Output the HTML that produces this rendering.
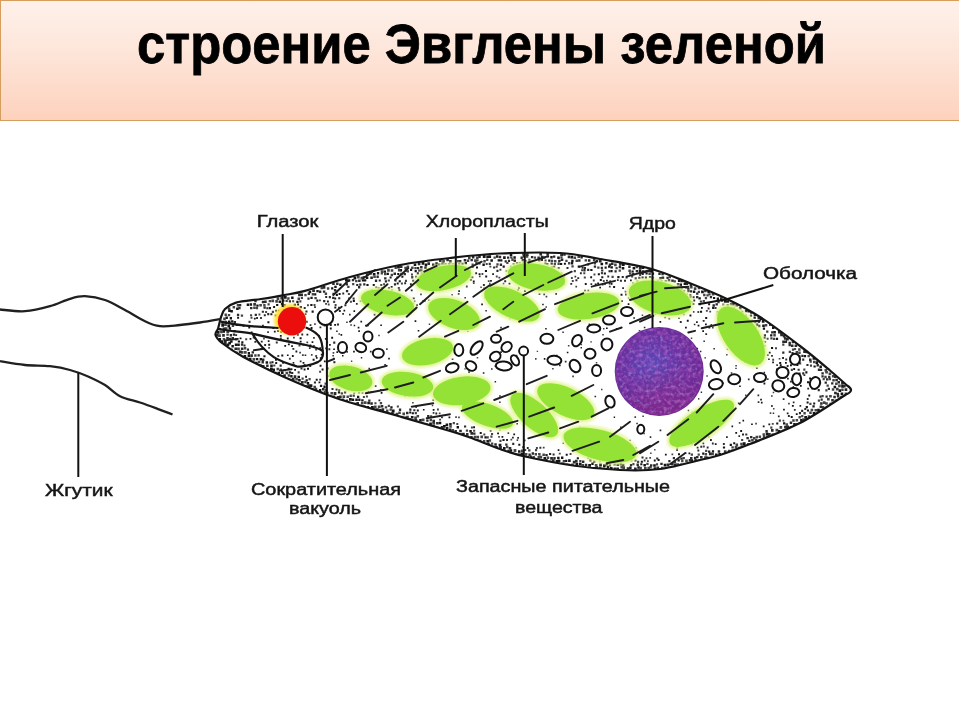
<!DOCTYPE html>
<html><head><meta charset="utf-8"><style>
html,body{margin:0;padding:0;background:#fff;}
body{width:960px;height:720px;position:relative;overflow:hidden;font-family:"Liberation Sans",sans-serif;}
#tb{position:absolute;left:0;top:0;width:959px;height:121px;box-sizing:border-box;border:1px solid #d69e5c;border-right:none;
background:linear-gradient(to bottom,#fef1ea 0%,#fde3d6 50%,#fdd2bd 100%);}
svg{position:absolute;left:0;top:0;}
.lb{font-family:"Liberation Sans",sans-serif;font-size:16px;fill:#151515;stroke:#151515;stroke-width:0.45px;}
</style></head><body>
<div id="tb"></div>
<svg width="960" height="720" viewBox="0 0 960 720">
<defs>
<clipPath id="bc"><path d="M221.0 317.0 C221.7 315.7 222.5 311.4 225.0 309.0 C227.5 306.6 230.0 304.3 236.0 302.6 C242.0 300.9 253.2 300.2 261.0 299.0 C268.8 297.8 275.7 296.7 283.0 295.3 C290.3 293.9 293.8 293.9 305.0 290.9 C316.2 287.8 334.2 281.3 350.0 277.0 C365.8 272.7 383.3 268.2 400.0 265.0 C416.7 261.8 433.3 259.9 450.0 258.0 C466.7 256.1 481.7 254.3 500.0 253.5 C518.3 252.7 543.3 252.1 560.0 253.0 C576.7 253.9 585.0 256.4 600.0 259.0 C615.0 261.6 635.0 264.4 650.0 268.5 C665.0 272.6 677.2 278.2 690.0 283.3 C702.8 288.4 715.3 293.4 727.0 299.0 C738.7 304.6 747.8 309.2 760.0 317.0 C772.2 324.8 788.3 337.1 800.0 346.0 C811.7 354.9 822.2 363.9 830.0 370.5 C837.8 377.1 844.2 383.0 847.0 385.5 Q855.5 390.5 846 394.5 C838.3 399.2 816.0 414.8 800.0 423.0 C784.0 431.2 763.3 438.7 750.0 444.0 C736.7 449.3 728.3 452.3 720.0 455.0 C711.7 457.7 710.0 457.7 700.0 460.0 C690.0 462.3 673.3 467.3 660.0 469.0 C646.7 470.7 634.5 470.6 620.0 470.0 C605.5 469.4 588.8 467.8 573.0 465.5 C557.2 463.2 537.2 459.2 525.0 456.5 C512.8 453.8 509.2 452.2 500.0 449.0 C490.8 445.8 478.3 440.5 470.0 437.5 C461.7 434.5 461.7 434.5 450.0 431.0 C438.3 427.5 419.0 422.0 400.0 416.5 C381.0 411.0 355.5 404.7 336.0 398.0 C316.5 391.3 298.5 383.4 283.0 376.5 C267.5 369.6 253.2 362.3 243.0 356.7 C232.8 351.1 226.6 346.6 222.0 343.0 C217.4 339.4 216.2 337.3 215.5 335.0 C214.8 332.7 217.6 330.0 218.0 329.0 Z"/></clipPath>
<filter id="gl" x="-30%" y="-30%" width="160%" height="160%"><feGaussianBlur stdDeviation="1.6"/></filter>
<filter id="cb" x="-10%" y="-10%" width="120%" height="120%"><feGaussianBlur stdDeviation="0.45"/></filter>
<filter id="sb" x="-10%" y="-10%" width="120%" height="120%"><feGaussianBlur stdDeviation="0.7"/></filter>
<filter id="nt" x="0" y="0" width="100%" height="100%">
<feTurbulence type="fractalNoise" baseFrequency="0.28" numOctaves="2" seed="5" result="n"/>
<feColorMatrix in="n" type="matrix" values="0 0 0 0 0.55  0 0 0 0 0.45  0 0 0 0 0.85  2.2 0 0 0 -1.05" result="c"/>
<feComposite in="c" in2="SourceGraphic" operator="in"/>
</filter>
<filter id="nt2" x="0" y="0" width="100%" height="100%">
<feTurbulence type="fractalNoise" baseFrequency="0.22" numOctaves="2" seed="9" result="n"/>
<feColorMatrix in="n" type="matrix" values="0 0 0 0 0.45  0 0 0 0 0.08  0 0 0 0 0.5  0 2.2 0 0 -1.0" result="c"/>
<feComposite in="c" in2="SourceGraphic" operator="in"/>
</filter>
<radialGradient id="nr" cx="0.55" cy="0.85" r="0.45"><stop offset="0" stop-color="#a02070" stop-opacity="0.3"/><stop offset="1" stop-color="#b02060" stop-opacity="0"/></radialGradient>
<radialGradient id="ng" cx="0.42" cy="0.42" r="0.6">
<stop offset="0" stop-color="#5a48b8"/><stop offset="0.55" stop-color="#6830a0"/><stop offset="1" stop-color="#702a92"/>
</radialGradient>
</defs>
<text x="137" y="62.5" font-family="Liberation Sans" font-weight="bold" font-size="56" textLength="689" lengthAdjust="spacingAndGlyphs" fill="#000" stroke="#000" stroke-width="0.8">строение Эвглены зеленой</text>
<path d="M221.0 317.0 C221.7 315.7 222.5 311.4 225.0 309.0 C227.5 306.6 230.0 304.3 236.0 302.6 C242.0 300.9 253.2 300.2 261.0 299.0 C268.8 297.8 275.7 296.7 283.0 295.3 C290.3 293.9 293.8 293.9 305.0 290.9 C316.2 287.8 334.2 281.3 350.0 277.0 C365.8 272.7 383.3 268.2 400.0 265.0 C416.7 261.8 433.3 259.9 450.0 258.0 C466.7 256.1 481.7 254.3 500.0 253.5 C518.3 252.7 543.3 252.1 560.0 253.0 C576.7 253.9 585.0 256.4 600.0 259.0 C615.0 261.6 635.0 264.4 650.0 268.5 C665.0 272.6 677.2 278.2 690.0 283.3 C702.8 288.4 715.3 293.4 727.0 299.0 C738.7 304.6 747.8 309.2 760.0 317.0 C772.2 324.8 788.3 337.1 800.0 346.0 C811.7 354.9 822.2 363.9 830.0 370.5 C837.8 377.1 844.2 383.0 847.0 385.5 Q855.5 390.5 846 394.5 C838.3 399.2 816.0 414.8 800.0 423.0 C784.0 431.2 763.3 438.7 750.0 444.0 C736.7 449.3 728.3 452.3 720.0 455.0 C711.7 457.7 710.0 457.7 700.0 460.0 C690.0 462.3 673.3 467.3 660.0 469.0 C646.7 470.7 634.5 470.6 620.0 470.0 C605.5 469.4 588.8 467.8 573.0 465.5 C557.2 463.2 537.2 459.2 525.0 456.5 C512.8 453.8 509.2 452.2 500.0 449.0 C490.8 445.8 478.3 440.5 470.0 437.5 C461.7 434.5 461.7 434.5 450.0 431.0 C438.3 427.5 419.0 422.0 400.0 416.5 C381.0 411.0 355.5 404.7 336.0 398.0 C316.5 391.3 298.5 383.4 283.0 376.5 C267.5 369.6 253.2 362.3 243.0 356.7 C232.8 351.1 226.6 346.6 222.0 343.0 C217.4 339.4 216.2 337.3 215.5 335.0 C214.8 332.7 217.6 330.0 218.0 329.0 Z" fill="#fff"/>
<g clip-path="url(#bc)"><path fill="#151515" d="M509.7 253.3h2.6v2.6h-2.6zM482.8 255.1h2.8v2.8h-2.8zM486.3 255.4h2.5v2.5h-2.5zM488.4 255.2h2.7v2.7h-2.7zM495.9 255.3h2.5v2.5h-2.5zM503.1 256.3h2.6v2.6h-2.6zM513.4 256.3h2.4v2.4h-2.4zM546.8 255.2h2.3v2.3h-2.3zM550.3 256.1h2.4v2.4h-2.4zM557.2 256.4h2.6v2.6h-2.6zM570.5 255.8h2.7v2.7h-2.7zM490.4 259.3h2.5v2.5h-2.5zM497.6 259.2h2.4v2.4h-2.4zM500.1 259.3h2.3v2.3h-2.3zM513.5 259.6h2.5v2.5h-2.5zM524.6 260.1h2.1v2.1h-2.1zM540.7 258.7h2.3v2.3h-2.3zM548.2 259.4h2.3v2.3h-2.3zM571.2 259.8h2.4v2.4h-2.4zM413.7 263.4h2.6v2.6h-2.6zM421.6 262.1h2.7v2.7h-2.7zM424.7 263.6h2.6v2.6h-2.6zM432.0 263.6h2.5v2.5h-2.5zM435.3 262.2h2.5v2.5h-2.5zM437.9 263.5h2.6v2.6h-2.6zM448.1 263.1h2.5v2.5h-2.5zM461.4 262.7h2.2v2.2h-2.2zM464.6 261.9h2.4v2.4h-2.4zM482.4 263.5h2.4v2.4h-2.4zM515.9 262.0h2.3v2.3h-2.3zM522.4 262.1h2.2v2.2h-2.2zM526.3 261.9h2.4v2.4h-2.4zM544.3 262.4h2.1v2.1h-2.1zM546.2 263.0h2.2v2.2h-2.2zM560.0 262.9h2.2v2.2h-2.2zM563.9 262.7h2.0v2.0h-2.0zM570.9 262.2h2.3v2.3h-2.3zM600.5 262.7h2.6v2.6h-2.6zM605.2 262.1h2.4v2.4h-2.4zM622.0 263.4h2.7v2.7h-2.7zM397.1 265.8h2.8v2.8h-2.8zM424.3 266.5h2.5v2.5h-2.5zM471.7 265.8h2.0v2.0h-2.0zM476.0 266.6h2.0v2.0h-2.0zM502.6 265.5h2.2v2.2h-2.2zM523.4 265.8h2.3v2.3h-2.3zM544.1 266.8h1.9v1.9h-1.9zM553.1 265.7h2.1v2.1h-2.1zM577.7 265.4h2.4v2.4h-2.4zM604.6 266.6h2.1v2.1h-2.1zM608.0 265.4h2.3v2.3h-2.3zM610.5 266.2h2.4v2.4h-2.4zM621.7 266.9h2.6v2.6h-2.6zM632.6 266.9h2.7v2.7h-2.7zM641.7 266.5h2.5v2.5h-2.5zM383.6 270.4h2.4v2.4h-2.4zM399.7 269.1h2.4v2.4h-2.4zM410.0 268.7h2.2v2.2h-2.2zM414.6 270.0h2.2v2.2h-2.2zM427.2 268.7h2.2v2.2h-2.2zM461.5 270.2h2.1v2.1h-2.1zM465.3 269.0h2.3v2.3h-2.3zM469.0 269.4h1.9v1.9h-1.9zM484.9 270.0h2.1v2.1h-2.1zM508.7 269.3h2.1v2.1h-2.1zM520.1 269.7h1.8v1.8h-1.8zM523.2 268.7h1.8v1.8h-1.8zM550.4 268.9h2.1v2.1h-2.1zM590.3 268.9h2.2v2.2h-2.2zM610.5 270.1h2.1v2.1h-2.1zM631.5 270.4h2.2v2.2h-2.2zM638.7 269.6h2.5v2.5h-2.5zM649.5 269.7h2.7v2.7h-2.7zM372.8 272.9h2.7v2.7h-2.7zM376.9 272.1h2.3v2.3h-2.3zM386.6 272.8h2.3v2.3h-2.3zM397.2 273.0h2.1v2.1h-2.1zM416.8 272.3h2.2v2.2h-2.2zM420.7 272.6h2.3v2.3h-2.3zM424.6 272.0h2.0v2.0h-2.0zM459.0 273.5h2.0v2.0h-2.0zM478.6 273.2h1.9v1.9h-1.9zM597.8 273.2h2.1v2.1h-2.1zM603.8 272.4h2.1v2.1h-2.1zM645.5 272.4h2.2v2.2h-2.2zM651.8 272.4h2.3v2.3h-2.3zM353.5 276.7h2.8v2.8h-2.8zM365.8 276.6h2.5v2.5h-2.5zM389.6 276.5h2.0v2.0h-2.0zM401.4 275.8h2.0v2.0h-2.0zM455.0 276.2h2.0v2.0h-2.0zM471.2 276.2h2.1v2.1h-2.1zM485.2 275.6h2.0v2.0h-2.0zM510.0 275.8h1.9v1.9h-1.9zM513.5 276.1h1.8v1.8h-1.8zM519.1 276.1h1.7v1.7h-1.7zM563.1 276.0h1.9v1.9h-1.9zM590.2 276.3h1.9v1.9h-1.9zM601.3 276.2h2.0v2.0h-2.0zM617.3 276.1h2.2v2.2h-2.2zM641.5 276.4h2.2v2.2h-2.2zM644.9 276.6h2.1v2.1h-2.1zM651.5 276.8h2.2v2.2h-2.2zM345.0 278.9h2.6v2.6h-2.6zM347.7 279.2h2.6v2.6h-2.6zM361.8 279.3h2.2v2.2h-2.2zM364.0 279.2h2.3v2.3h-2.3zM398.7 280.2h2.1v2.1h-2.1zM412.3 279.7h2.0v2.0h-2.0zM469.9 278.9h1.9v1.9h-1.9zM472.8 280.6h1.9v1.9h-1.9zM490.1 280.0h1.7v1.7h-1.7zM520.9 279.9h1.7v1.7h-1.7zM544.6 279.5h1.8v1.8h-1.8zM547.9 280.3h1.7v1.7h-1.7zM561.6 280.0h1.9v1.9h-1.9zM599.8 279.1h2.0v2.0h-2.0zM606.1 279.8h1.7v1.7h-1.7zM630.0 279.4h1.8v1.8h-1.8zM636.4 280.6h2.2v2.2h-2.2zM677.9 279.5h2.6v2.6h-2.6zM339.2 283.5h2.4v2.4h-2.4zM366.4 283.9h2.2v2.2h-2.2zM372.7 283.9h2.1v2.1h-2.1zM396.7 282.4h2.0v2.0h-2.0zM424.3 282.8h1.9v1.9h-1.9zM508.6 282.7h1.8v1.8h-1.8zM520.4 282.4h1.8v1.8h-1.8zM544.1 283.8h1.8v1.8h-1.8zM584.8 283.0h1.9v1.9h-1.9zM594.7 283.6h2.0v2.0h-2.0zM597.2 282.6h1.9v1.9h-1.9zM604.0 282.8h1.9v1.9h-1.9zM610.7 283.0h1.8v1.8h-1.8zM679.6 283.5h2.4v2.4h-2.4zM683.6 282.4h2.6v2.6h-2.6zM331.1 287.2h2.2v2.2h-2.2zM334.3 285.7h2.4v2.4h-2.4zM375.3 286.4h1.9v1.9h-1.9zM377.6 287.3h2.1v2.1h-2.1zM388.1 287.1h1.8v1.8h-1.8zM390.7 285.9h1.9v1.9h-1.9zM545.0 286.3h1.7v1.7h-1.7zM599.3 286.7h1.7v1.7h-1.7zM613.1 286.0h2.0v2.0h-2.0zM629.7 287.4h2.1v2.1h-2.1zM647.2 285.8h2.1v2.1h-2.1zM684.8 286.2h2.2v2.2h-2.2zM308.6 290.7h2.6v2.6h-2.6zM316.3 289.9h2.4v2.4h-2.4zM367.3 290.8h1.9v1.9h-1.9zM391.0 289.6h1.8v1.8h-1.8zM398.4 289.3h2.0v2.0h-2.0zM517.1 289.3h1.8v1.8h-1.8zM524.0 290.3h1.8v1.8h-1.8zM587.4 289.8h1.8v1.8h-1.8zM659.9 289.2h2.2v2.2h-2.2zM673.6 290.4h2.1v2.1h-2.1zM692.9 290.6h2.4v2.4h-2.4zM701.1 290.6h2.7v2.7h-2.7zM707.4 290.8h2.5v2.5h-2.5zM314.1 293.3h2.2v2.2h-2.2zM335.8 293.8h2.1v2.1h-2.1zM338.6 292.9h2.0v2.0h-2.0zM382.4 293.4h1.8v1.8h-1.8zM397.0 292.6h1.8v1.8h-1.8zM502.2 293.5h1.7v1.7h-1.7zM593.9 292.9h1.6v1.6h-1.6zM620.5 293.7h2.0v2.0h-2.0zM645.1 293.8h1.7v1.7h-1.7zM658.8 292.7h2.1v2.1h-2.1zM661.0 293.4h1.9v1.9h-1.9zM678.8 292.7h2.0v2.0h-2.0zM284.0 296.0h2.7v2.7h-2.7zM291.1 296.5h2.5v2.5h-2.5zM310.4 296.7h2.3v2.3h-2.3zM334.2 297.5h2.0v2.0h-2.0zM382.2 296.8h1.8v1.8h-1.8zM396.9 297.1h1.9v1.9h-1.9zM484.4 296.7h1.8v1.8h-1.8zM610.4 296.5h1.7v1.7h-1.7zM685.4 296.4h2.0v2.0h-2.0zM689.2 296.1h2.2v2.2h-2.2zM698.4 297.2h2.4v2.4h-2.4zM713.0 296.9h2.2v2.2h-2.2zM716.7 297.6h2.3v2.3h-2.3zM278.6 300.5h2.6v2.6h-2.6zM296.3 300.7h2.3v2.3h-2.3zM316.3 299.6h2.1v2.1h-2.1zM326.9 300.5h1.9v1.9h-1.9zM352.8 299.8h2.1v2.1h-2.1zM359.8 300.3h1.8v1.8h-1.8zM422.1 300.6h1.7v1.7h-1.7zM493.3 299.5h1.5v1.5h-1.5zM581.7 300.5h1.5v1.5h-1.5zM602.2 300.9h1.7v1.7h-1.7zM615.6 299.7h1.7v1.7h-1.7zM621.1 300.2h1.8v1.8h-1.8zM659.3 299.3h1.8v1.8h-1.8zM676.0 300.1h2.0v2.0h-2.0zM686.7 300.0h2.0v2.0h-2.0zM693.2 299.5h2.0v2.0h-2.0zM723.9 300.1h2.6v2.6h-2.6zM726.5 300.2h2.6v2.6h-2.6zM246.7 303.5h2.5v2.5h-2.5zM249.7 303.3h2.4v2.4h-2.4zM256.3 304.4h2.3v2.3h-2.3zM276.1 303.9h2.2v2.2h-2.2zM280.9 303.0h2.3v2.3h-2.3zM297.1 303.5h2.0v2.0h-2.0zM310.3 303.9h2.2v2.2h-2.2zM412.6 302.8h1.6v1.6h-1.6zM416.1 304.3h1.7v1.7h-1.7zM481.2 303.6h1.7v1.7h-1.7zM519.1 303.3h1.7v1.7h-1.7zM542.2 303.8h1.5v1.5h-1.5zM589.3 304.3h1.7v1.7h-1.7zM627.7 303.2h1.7v1.7h-1.7zM692.3 303.0h2.0v2.0h-2.0zM708.1 303.2h2.0v2.0h-2.0zM732.0 302.7h2.7v2.7h-2.7zM236.1 307.4h2.6v2.6h-2.6zM268.7 306.9h2.3v2.3h-2.3zM273.1 306.1h2.0v2.0h-2.0zM290.3 306.6h2.1v2.1h-2.1zM297.1 307.6h2.0v2.0h-2.0zM334.3 306.5h2.0v2.0h-2.0zM378.4 307.6h1.7v1.7h-1.7zM409.2 307.7h1.6v1.6h-1.6zM500.4 307.5h1.7v1.7h-1.7zM592.9 307.0h1.5v1.5h-1.5zM671.3 307.6h1.7v1.7h-1.7zM680.5 306.9h2.0v2.0h-2.0zM687.9 307.4h1.8v1.8h-1.8zM701.0 306.9h1.8v1.8h-1.8zM712.1 306.8h2.2v2.2h-2.2zM722.4 307.5h2.3v2.3h-2.3zM727.6 307.5h2.4v2.4h-2.4zM738.9 307.0h2.6v2.6h-2.6zM228.2 309.5h2.5v2.5h-2.5zM230.4 310.0h2.5v2.5h-2.5zM277.9 309.7h1.9v1.9h-1.9zM281.2 309.9h1.9v1.9h-1.9zM284.5 310.5h2.1v2.1h-2.1zM311.6 310.6h2.1v2.1h-2.1zM343.5 309.8h1.7v1.7h-1.7zM353.5 310.3h1.6v1.6h-1.6zM452.0 310.4h1.6v1.6h-1.6zM485.4 310.0h1.4v1.4h-1.4zM666.5 309.7h1.9v1.9h-1.9zM700.0 310.7h2.1v2.1h-2.1zM716.7 311.0h1.9v1.9h-1.9zM740.7 310.8h2.5v2.5h-2.5zM744.9 309.7h2.5v2.5h-2.5zM747.6 309.8h2.6v2.6h-2.6zM270.4 313.3h2.0v2.0h-2.0zM274.7 314.4h2.1v2.1h-2.1zM284.2 313.2h2.1v2.1h-2.1zM289.1 314.5h2.1v2.1h-2.1zM298.3 314.4h2.1v2.1h-2.1zM342.3 313.1h1.6v1.6h-1.6zM373.7 313.7h1.8v1.8h-1.8zM445.5 313.1h1.5v1.5h-1.5zM523.1 312.9h1.5v1.5h-1.5zM625.2 314.3h1.6v1.6h-1.6zM682.8 313.3h1.9v1.9h-1.9zM689.5 314.5h1.9v1.9h-1.9zM723.4 313.4h2.1v2.1h-2.1zM741.0 313.3h2.3v2.3h-2.3zM744.8 314.5h2.2v2.2h-2.2zM225.4 316.6h2.5v2.5h-2.5zM229.7 317.1h2.3v2.3h-2.3zM237.1 316.7h2.0v2.0h-2.0zM253.9 317.8h1.8v1.8h-1.8zM294.4 317.0h1.7v1.7h-1.7zM511.3 316.9h1.7v1.7h-1.7zM633.3 317.2h1.6v1.6h-1.6zM705.2 317.1h2.0v2.0h-2.0zM725.7 317.2h2.0v2.0h-2.0zM736.6 316.2h2.1v2.1h-2.1zM739.8 316.5h2.0v2.0h-2.0zM753.5 316.4h2.3v2.3h-2.3zM759.7 317.1h2.8v2.8h-2.8zM228.0 320.4h2.5v2.5h-2.5zM231.1 320.3h2.3v2.3h-2.3zM267.4 321.2h2.0v2.0h-2.0zM297.9 319.9h2.0v2.0h-2.0zM360.4 320.8h1.7v1.7h-1.7zM414.6 320.3h1.7v1.7h-1.7zM659.5 321.0h1.7v1.7h-1.7zM686.8 319.8h1.9v1.9h-1.9zM720.6 319.9h1.9v1.9h-1.9zM737.6 320.3h2.1v2.1h-2.1zM757.7 320.4h2.3v2.3h-2.3zM761.8 320.0h2.7v2.7h-2.7zM221.3 324.1h2.7v2.7h-2.7zM227.4 324.6h2.7v2.7h-2.7zM235.9 324.1h1.9v1.9h-1.9zM242.6 324.8h1.9v1.9h-1.9zM329.8 324.0h1.9v1.9h-1.9zM334.2 323.9h1.9v1.9h-1.9zM337.1 323.6h1.8v1.8h-1.8zM353.7 324.8h1.5v1.5h-1.5zM365.1 324.7h1.7v1.7h-1.7zM380.3 324.4h1.6v1.6h-1.6zM697.6 324.8h1.8v1.8h-1.8zM705.0 323.5h1.8v1.8h-1.8zM732.2 324.7h2.1v2.1h-2.1zM755.8 323.6h2.4v2.4h-2.4zM762.2 324.4h2.6v2.6h-2.6zM218.9 327.9h2.4v2.4h-2.4zM228.6 327.3h2.5v2.5h-2.5zM248.3 326.7h1.9v1.9h-1.9zM279.7 326.8h1.9v1.9h-1.9zM296.6 326.7h1.7v1.7h-1.7zM310.6 327.0h1.9v1.9h-1.9zM329.8 327.6h1.9v1.9h-1.9zM357.7 326.8h1.7v1.7h-1.7zM545.2 328.1h1.5v1.5h-1.5zM606.0 327.4h1.7v1.7h-1.7zM615.9 327.9h1.7v1.7h-1.7zM685.0 326.8h1.8v1.8h-1.8zM731.8 326.7h1.9v1.9h-1.9zM754.8 326.8h2.2v2.2h-2.2zM762.8 327.4h2.3v2.3h-2.3zM772.0 326.6h2.5v2.5h-2.5zM216.9 331.1h2.7v2.7h-2.7zM222.4 330.2h2.6v2.6h-2.6zM233.4 329.9h2.4v2.4h-2.4zM250.7 331.5h1.8v1.8h-1.8zM273.9 330.7h1.8v1.8h-1.8zM284.0 331.3h1.7v1.7h-1.7zM417.7 330.0h1.6v1.6h-1.6zM647.9 331.5h1.6v1.6h-1.6zM702.3 330.3h1.7v1.7h-1.7zM729.3 329.8h1.6v1.6h-1.6zM735.8 330.2h1.8v1.8h-1.8zM757.0 330.6h2.2v2.2h-2.2zM773.3 331.0h2.6v2.6h-2.6zM279.9 335.0h1.8v1.8h-1.8zM306.5 333.8h1.8v1.8h-1.8zM340.5 334.0h1.7v1.7h-1.7zM671.1 334.3h1.6v1.6h-1.6zM721.5 333.5h1.8v1.8h-1.8zM770.1 334.3h2.3v2.3h-2.3zM218.4 338.1h2.7v2.7h-2.7zM239.6 337.4h1.9v1.9h-1.9zM249.6 338.0h1.8v1.8h-1.8zM286.8 337.6h1.9v1.9h-1.9zM299.6 337.3h2.0v2.0h-2.0zM324.9 338.0h1.8v1.8h-1.8zM331.2 336.8h1.9v1.9h-1.9zM763.5 336.7h2.0v2.0h-2.0zM775.9 337.8h2.2v2.2h-2.2zM220.6 340.3h2.8v2.8h-2.8zM228.3 341.8h2.7v2.7h-2.7zM230.1 340.3h2.5v2.5h-2.5zM237.8 340.4h2.2v2.2h-2.2zM241.3 341.3h2.1v2.1h-2.1zM267.8 340.3h1.7v1.7h-1.7zM299.7 340.7h1.9v1.9h-1.9zM311.6 341.2h1.7v1.7h-1.7zM226.6 343.6h2.7v2.7h-2.7zM231.4 345.0h2.5v2.5h-2.5zM234.8 343.6h2.5v2.5h-2.5zM237.4 343.5h2.4v2.4h-2.4zM268.2 343.8h2.0v2.0h-2.0zM284.3 344.9h1.8v1.8h-1.8zM287.9 343.4h1.9v1.9h-1.9zM309.5 344.5h1.8v1.8h-1.8zM435.4 345.0h1.4v1.4h-1.4zM679.7 345.2h1.6v1.6h-1.6zM763.8 345.0h1.7v1.7h-1.7zM333.2 348.4h1.7v1.7h-1.7zM771.0 346.9h2.1v2.1h-2.1zM247.7 351.9h2.3v2.3h-2.3zM295.5 350.6h1.8v1.8h-1.8zM336.4 351.3h1.7v1.7h-1.7zM353.1 350.8h1.7v1.7h-1.7zM492.9 351.7h1.6v1.6h-1.6zM566.8 351.7h1.6v1.6h-1.6zM768.8 351.7h1.8v1.8h-1.8zM243.6 355.1h2.6v2.6h-2.6zM247.6 354.5h2.5v2.5h-2.5zM263.4 355.2h2.1v2.1h-2.1zM281.3 354.4h2.0v2.0h-2.0zM286.9 354.4h1.7v1.7h-1.7zM291.9 355.1h1.8v1.8h-1.8zM320.8 353.7h1.8v1.8h-1.8zM342.0 355.0h1.5v1.5h-1.5zM556.0 354.7h1.6v1.6h-1.6zM641.5 353.9h1.7v1.7h-1.7zM803.8 355.0h2.3v2.3h-2.3zM248.9 357.8h2.6v2.6h-2.6zM255.9 357.9h2.4v2.4h-2.4zM259.6 358.0h2.4v2.4h-2.4zM275.0 358.8h1.9v1.9h-1.9zM312.6 358.7h2.0v2.0h-2.0zM315.9 357.1h1.7v1.7h-1.7zM388.2 357.8h1.6v1.6h-1.6zM543.8 358.1h1.6v1.6h-1.6zM704.5 357.2h1.4v1.4h-1.4zM768.1 358.5h1.6v1.6h-1.6zM812.6 357.4h2.4v2.4h-2.4zM255.0 361.7h2.6v2.6h-2.6zM265.6 361.2h2.5v2.5h-2.5zM271.5 361.2h2.0v2.0h-2.0zM275.2 362.1h2.0v2.0h-2.0zM282.2 362.1h1.7v1.7h-1.7zM302.6 361.9h1.8v1.8h-1.8zM323.9 360.5h1.7v1.7h-1.7zM333.4 361.3h2.0v2.0h-2.0zM412.4 360.9h1.7v1.7h-1.7zM772.2 361.5h1.7v1.7h-1.7zM779.2 361.9h2.0v2.0h-2.0zM785.0 362.0h1.8v1.8h-1.8zM815.5 361.3h2.6v2.6h-2.6zM270.2 364.5h2.6v2.6h-2.6zM319.6 364.8h1.9v1.9h-1.9zM779.8 364.3h1.9v1.9h-1.9zM790.0 364.3h1.9v1.9h-1.9zM796.4 363.9h2.0v2.0h-2.0zM813.5 365.4h2.2v2.2h-2.2zM819.4 365.5h2.5v2.5h-2.5zM270.0 367.6h2.7v2.7h-2.7zM272.6 368.6h2.4v2.4h-2.4zM287.6 367.7h2.2v2.2h-2.2zM294.2 368.9h1.8v1.8h-1.8zM303.6 368.5h1.9v1.9h-1.9zM307.0 367.8h2.0v2.0h-2.0zM321.6 368.6h1.9v1.9h-1.9zM341.3 367.3h1.5v1.5h-1.5zM776.0 368.6h1.9v1.9h-1.9zM793.2 368.1h1.9v1.9h-1.9zM271.7 371.1h2.4v2.4h-2.4zM277.4 371.8h2.6v2.6h-2.6zM280.9 371.2h2.7v2.7h-2.7zM288.8 371.2h2.4v2.4h-2.4zM482.8 372.2h1.6v1.6h-1.6zM805.3 371.3h2.1v2.1h-2.1zM290.2 375.0h2.4v2.4h-2.4zM297.5 375.7h2.5v2.5h-2.5zM305.1 375.8h1.9v1.9h-1.9zM780.8 375.7h1.6v1.6h-1.6zM298.1 378.9h2.6v2.6h-2.6zM305.6 379.2h2.2v2.2h-2.2zM315.7 378.7h2.0v2.0h-2.0zM319.3 378.7h1.9v1.9h-1.9zM359.5 378.5h1.6v1.6h-1.6zM404.3 378.7h1.7v1.7h-1.7zM809.1 377.5h1.9v1.9h-1.9zM306.7 382.0h2.5v2.5h-2.5zM318.5 381.4h1.9v1.9h-1.9zM335.5 382.6h1.7v1.7h-1.7zM338.9 382.3h1.8v1.8h-1.8zM763.5 382.6h1.8v1.8h-1.8zM790.1 380.8h1.6v1.6h-1.6zM807.0 381.3h2.0v2.0h-2.0zM816.7 382.2h1.9v1.9h-1.9zM309.8 384.3h2.6v2.6h-2.6zM319.9 384.8h2.3v2.3h-2.3zM323.4 385.6h2.3v2.3h-2.3zM368.0 384.6h1.5v1.5h-1.5zM423.3 385.6h1.5v1.5h-1.5zM481.1 385.8h1.6v1.6h-1.6zM800.0 385.1h1.7v1.7h-1.7zM833.6 385.8h2.5v2.5h-2.5zM841.2 385.1h2.7v2.7h-2.7zM311.1 388.6h2.5v2.5h-2.5zM318.9 389.1h2.4v2.4h-2.4zM335.6 388.6h2.0v2.0h-2.0zM417.8 388.3h1.5v1.5h-1.5zM570.5 388.5h1.4v1.4h-1.4zM838.5 389.2h2.7v2.7h-2.7zM319.7 391.4h2.7v2.7h-2.7zM337.9 391.3h2.2v2.2h-2.2zM344.1 391.3h2.1v2.1h-2.1zM358.1 391.6h2.0v2.0h-2.0zM370.4 391.2h1.5v1.5h-1.5zM380.7 391.9h1.8v1.8h-1.8zM458.6 391.5h1.5v1.5h-1.5zM840.6 392.6h2.7v2.7h-2.7zM357.0 395.7h2.3v2.3h-2.3zM445.1 396.0h1.6v1.6h-1.6zM499.2 395.3h1.5v1.5h-1.5zM795.9 394.8h1.5v1.5h-1.5zM808.3 394.5h1.9v1.9h-1.9zM843.4 395.8h2.6v2.6h-2.6zM337.5 398.5h2.5v2.5h-2.5zM349.0 398.1h2.7v2.7h-2.7zM351.8 398.6h2.4v2.4h-2.4zM355.3 398.6h2.5v2.5h-2.5zM358.2 398.6h2.3v2.3h-2.3zM361.2 399.2h2.4v2.4h-2.4zM432.5 399.3h1.6v1.6h-1.6zM545.6 398.6h1.6v1.6h-1.6zM698.0 398.2h1.4v1.4h-1.4zM760.2 398.8h1.7v1.7h-1.7zM834.6 399.4h2.5v2.5h-2.5zM353.6 402.8h2.6v2.6h-2.6zM367.3 401.7h2.6v2.6h-2.6zM520.6 401.8h1.7v1.7h-1.7zM714.6 402.1h1.6v1.6h-1.6zM760.9 401.7h1.7v1.7h-1.7zM806.6 401.5h2.0v2.0h-2.0zM813.2 402.4h2.0v2.0h-2.0zM829.5 402.7h2.7v2.7h-2.7zM366.7 405.9h2.4v2.4h-2.4zM371.0 406.0h2.8v2.8h-2.8zM390.3 406.3h2.3v2.3h-2.3zM533.0 405.5h1.5v1.5h-1.5zM791.9 404.9h1.9v1.9h-1.9zM805.7 406.0h2.2v2.2h-2.2zM812.4 405.2h2.3v2.3h-2.3zM826.1 406.0h2.6v2.6h-2.6zM379.2 408.9h2.5v2.5h-2.5zM391.8 409.6h2.8v2.8h-2.8zM409.3 408.6h2.1v2.1h-2.1zM416.8 409.5h2.0v2.0h-2.0zM422.9 408.9h1.6v1.6h-1.6zM432.7 409.0h1.8v1.8h-1.8zM488.4 408.5h1.6v1.6h-1.6zM783.1 408.8h1.7v1.7h-1.7zM806.9 409.4h2.1v2.1h-2.1zM817.1 408.7h2.7v2.7h-2.7zM821.7 409.0h2.7v2.7h-2.7zM387.6 412.8h2.6v2.6h-2.6zM409.2 411.5h2.1v2.1h-2.1zM411.8 412.2h2.1v2.1h-2.1zM435.4 412.6h1.8v1.8h-1.8zM786.8 412.5h1.7v1.7h-1.7zM795.8 413.2h1.9v1.9h-1.9zM812.7 411.9h2.7v2.7h-2.7zM816.5 413.1h2.4v2.4h-2.4zM410.9 415.9h2.6v2.6h-2.6zM448.5 416.4h1.8v1.8h-1.8zM613.7 416.6h1.4v1.4h-1.4zM716.8 415.7h1.4v1.4h-1.4zM790.7 415.9h2.0v2.0h-2.0zM804.3 416.1h2.7v2.7h-2.7zM412.8 419.7h2.5v2.5h-2.5zM419.2 418.9h2.6v2.6h-2.6zM707.3 418.8h1.4v1.4h-1.4zM742.5 419.8h1.6v1.6h-1.6zM800.1 419.1h2.7v2.7h-2.7zM429.2 422.4h2.7v2.7h-2.7zM438.8 421.8h2.5v2.5h-2.5zM445.6 423.4h2.6v2.6h-2.6zM449.2 423.1h2.5v2.5h-2.5zM516.4 423.1h1.5v1.5h-1.5zM551.4 422.4h1.6v1.6h-1.6zM751.1 423.4h1.7v1.7h-1.7zM768.4 423.4h1.8v1.8h-1.8zM776.2 422.5h2.1v2.1h-2.1zM783.0 422.2h2.3v2.3h-2.3zM793.2 423.1h2.6v2.6h-2.6zM430.4 425.1h2.7v2.7h-2.7zM435.8 426.6h2.6v2.6h-2.6zM443.0 425.1h2.7v2.7h-2.7zM446.0 426.8h2.4v2.4h-2.4zM456.6 426.1h2.4v2.4h-2.4zM473.1 426.3h1.9v1.9h-1.9zM620.2 426.5h1.4v1.4h-1.4zM731.5 425.6h1.6v1.6h-1.6zM762.8 425.4h1.8v1.8h-1.8zM448.9 428.5h2.6v2.6h-2.6zM469.3 430.0h2.5v2.5h-2.5zM740.2 430.0h1.9v1.9h-1.9zM777.8 429.9h2.6v2.6h-2.6zM782.2 429.7h2.7v2.7h-2.7zM462.1 432.8h2.6v2.6h-2.6zM479.7 431.9h2.0v2.0h-2.0zM497.1 432.4h1.9v1.9h-1.9zM513.3 433.5h1.8v1.8h-1.8zM735.3 432.0h1.8v1.8h-1.8zM765.7 432.6h2.6v2.6h-2.6zM776.3 432.9h2.8v2.8h-2.8zM466.2 435.5h2.5v2.5h-2.5zM484.4 436.2h2.4v2.4h-2.4zM501.5 436.0h1.8v1.8h-1.8zM707.9 436.0h1.6v1.6h-1.6zM486.4 439.9h2.6v2.6h-2.6zM502.4 438.9h2.2v2.2h-2.2zM506.1 439.1h1.8v1.8h-1.8zM629.3 439.7h1.4v1.4h-1.4zM710.0 439.1h1.8v1.8h-1.8zM758.6 440.1h2.8v2.8h-2.8zM498.6 443.7h2.8v2.8h-2.8zM518.3 443.7h2.0v2.0h-2.0zM593.4 443.0h1.7v1.7h-1.7zM714.8 443.2h1.8v1.8h-1.8zM729.7 443.7h2.2v2.2h-2.2zM733.2 442.2h2.0v2.0h-2.0zM742.8 442.3h2.8v2.8h-2.8zM746.9 443.2h2.7v2.7h-2.7zM495.2 446.0h2.5v2.5h-2.5zM503.0 447.1h2.6v2.6h-2.6zM522.3 446.3h1.9v1.9h-1.9zM591.9 446.7h1.5v1.5h-1.5zM635.1 447.2h1.6v1.6h-1.6zM676.4 446.9h1.8v1.8h-1.8zM722.9 446.4h2.2v2.2h-2.2zM738.2 446.7h2.5v2.5h-2.5zM740.7 445.6h2.6v2.6h-2.6zM509.6 449.2h2.6v2.6h-2.6zM518.0 450.3h2.5v2.5h-2.5zM557.7 449.2h1.7v1.7h-1.7zM626.6 449.8h1.8v1.8h-1.8zM635.9 450.3h1.7v1.7h-1.7zM711.9 450.2h2.2v2.2h-2.2zM731.2 449.6h2.5v2.5h-2.5zM520.8 452.6h2.7v2.7h-2.7zM565.7 453.7h2.0v2.0h-2.0zM616.0 452.4h1.8v1.8h-1.8zM664.9 453.8h1.8v1.8h-1.8zM678.0 453.3h2.0v2.0h-2.0zM684.6 452.3h1.8v1.8h-1.8zM688.5 452.5h1.8v1.8h-1.8zM702.2 452.5h2.2v2.2h-2.2zM715.0 453.4h2.6v2.6h-2.6zM718.4 453.0h2.6v2.6h-2.6zM722.1 453.2h2.6v2.6h-2.6zM526.2 455.9h2.8v2.8h-2.8zM543.5 457.0h2.7v2.7h-2.7zM557.1 456.7h2.5v2.5h-2.5zM561.0 456.6h2.4v2.4h-2.4zM576.8 457.2h2.1v2.1h-2.1zM587.4 456.9h2.0v2.0h-2.0zM632.4 457.1h1.6v1.6h-1.6zM541.0 459.4h2.8v2.8h-2.8zM555.6 459.9h2.6v2.6h-2.6zM557.9 459.7h2.5v2.5h-2.5zM564.9 459.7h2.4v2.4h-2.4zM568.1 459.3h2.6v2.6h-2.6zM589.3 459.1h2.3v2.3h-2.3zM593.2 460.5h2.2v2.2h-2.2zM634.4 459.4h2.1v2.1h-2.1zM640.8 460.7h2.1v2.1h-2.1zM653.8 459.6h1.9v1.9h-1.9zM657.6 459.1h2.0v2.0h-2.0zM677.5 459.3h2.3v2.3h-2.3zM690.6 459.2h2.5v2.5h-2.5zM697.6 459.6h2.8v2.8h-2.8zM565.3 463.6h2.7v2.7h-2.7zM567.8 463.7h2.4v2.4h-2.4zM575.5 462.7h2.7v2.7h-2.7zM579.0 462.7h2.6v2.6h-2.6zM588.2 463.9h2.8v2.8h-2.8zM591.3 462.6h2.4v2.4h-2.4zM599.2 463.6h2.7v2.7h-2.7zM603.0 464.2h2.7v2.7h-2.7zM605.7 463.1h2.4v2.4h-2.4zM616.5 463.5h2.5v2.5h-2.5zM619.5 463.0h2.5v2.5h-2.5zM640.3 463.2h2.1v2.1h-2.1zM643.4 464.0h2.5v2.5h-2.5zM653.2 464.2h2.6v2.6h-2.6zM663.7 463.8h2.7v2.7h-2.7zM684.3 463.7h2.7v2.7h-2.7zM592.3 467.6h2.4v2.4h-2.4zM602.6 467.5h2.8v2.8h-2.8zM606.7 465.9h2.5v2.5h-2.5zM609.9 467.0h2.7v2.7h-2.7zM629.1 466.5h2.5v2.5h-2.5zM637.3 466.2h2.5v2.5h-2.5zM653.6 467.2h2.6v2.6h-2.6zM615.2 469.5h2.4v2.4h-2.4zM628.1 470.0h2.4v2.4h-2.4zM635.1 470.3h2.6v2.6h-2.6z"/><path fill="#444" d="M522.2 252.8h2.8v2.8h-2.8zM468.0 256.7h2.6v2.6h-2.6zM475.9 256.4h2.7v2.7h-2.7zM493.5 256.5h2.3v2.3h-2.3zM510.1 256.2h2.4v2.4h-2.4zM525.8 255.2h2.5v2.5h-2.5zM533.8 256.5h2.3v2.3h-2.3zM543.2 256.4h2.3v2.3h-2.3zM560.3 256.3h2.3v2.3h-2.3zM573.5 256.5h2.6v2.6h-2.6zM577.4 255.4h2.7v2.7h-2.7zM442.2 260.1h2.7v2.7h-2.7zM456.8 260.0h2.5v2.5h-2.5zM466.8 259.5h2.4v2.4h-2.4zM474.1 259.3h2.6v2.6h-2.6zM476.3 259.2h2.3v2.3h-2.3zM483.3 259.9h2.5v2.5h-2.5zM486.1 258.6h2.3v2.3h-2.3zM511.3 258.5h2.4v2.4h-2.4zM528.3 258.7h2.2v2.2h-2.2zM538.0 258.9h2.5v2.5h-2.5zM544.5 259.4h2.1v2.1h-2.1zM551.0 259.8h2.2v2.2h-2.2zM554.0 259.9h2.5v2.5h-2.5zM565.3 259.8h2.3v2.3h-2.3zM575.5 259.4h2.5v2.5h-2.5zM584.6 259.2h2.4v2.4h-2.4zM592.9 258.5h2.5v2.5h-2.5zM444.4 263.1h2.3v2.3h-2.3zM471.5 263.4h2.2v2.2h-2.2zM475.3 261.9h2.4v2.4h-2.4zM485.7 263.1h2.0v2.0h-2.0zM496.4 263.2h2.3v2.3h-2.3zM506.3 261.9h2.2v2.2h-2.2zM512.6 263.0h2.1v2.1h-2.1zM529.0 262.2h2.2v2.2h-2.2zM553.7 262.9h2.3v2.3h-2.3zM557.5 262.6h2.3v2.3h-2.3zM568.0 262.1h2.4v2.4h-2.4zM593.9 262.3h2.2v2.2h-2.2zM614.1 263.6h2.6v2.6h-2.6zM394.5 266.6h2.4v2.4h-2.4zM404.3 266.7h2.7v2.7h-2.7zM406.6 265.4h2.6v2.6h-2.6zM411.1 266.5h2.5v2.5h-2.5zM414.3 266.9h2.4v2.4h-2.4zM438.3 266.1h2.3v2.3h-2.3zM489.4 265.7h1.9v1.9h-1.9zM495.7 265.7h2.0v2.0h-2.0zM520.3 265.4h2.1v2.1h-2.1zM525.8 265.9h1.9v1.9h-1.9zM530.1 265.5h2.0v2.0h-2.0zM557.6 266.9h2.1v2.1h-2.1zM571.4 265.3h2.3v2.3h-2.3zM597.2 266.5h2.3v2.3h-2.3zM615.5 267.0h2.2v2.2h-2.2zM635.7 265.8h2.5v2.5h-2.5zM380.7 270.3h2.8v2.8h-2.8zM387.1 269.0h2.7v2.7h-2.7zM390.7 269.2h2.6v2.6h-2.6zM397.9 269.0h2.6v2.6h-2.6zM404.8 269.5h2.3v2.3h-2.3zM406.8 270.2h2.2v2.2h-2.2zM418.1 269.5h2.2v2.2h-2.2zM420.2 269.2h2.4v2.4h-2.4zM430.9 269.4h2.1v2.1h-2.1zM448.8 268.8h2.1v2.1h-2.1zM454.8 269.8h2.2v2.2h-2.2zM499.4 268.8h2.0v2.0h-2.0zM505.6 270.0h1.9v1.9h-1.9zM512.5 269.6h1.9v1.9h-1.9zM536.0 269.5h2.0v2.0h-2.0zM539.5 269.5h2.0v2.0h-2.0zM546.4 269.4h2.1v2.1h-2.1zM573.7 270.1h2.2v2.2h-2.2zM581.1 269.2h2.0v2.0h-2.0zM618.6 269.5h2.3v2.3h-2.3zM628.4 269.6h2.5v2.5h-2.5zM369.1 272.1h2.7v2.7h-2.7zM380.7 272.3h2.3v2.3h-2.3zM384.0 272.7h2.5v2.5h-2.5zM390.6 273.8h2.4v2.4h-2.4zM400.2 272.7h2.5v2.5h-2.5zM411.0 273.6h2.0v2.0h-2.0zM430.3 273.3h2.1v2.1h-2.1zM469.1 273.1h1.9v1.9h-1.9zM481.5 273.1h1.8v1.8h-1.8zM553.9 273.3h1.8v1.8h-1.8zM583.3 272.3h2.0v2.0h-2.0zM593.5 273.6h1.9v1.9h-1.9zM600.9 272.1h2.1v2.1h-2.1zM629.0 272.2h2.4v2.4h-2.4zM639.1 273.8h2.1v2.1h-2.1zM648.4 272.6h2.4v2.4h-2.4zM357.0 275.7h2.7v2.7h-2.7zM360.5 276.7h2.7v2.7h-2.7zM362.6 276.0h2.3v2.3h-2.3zM373.3 275.5h2.5v2.5h-2.5zM396.4 276.4h2.0v2.0h-2.0zM411.1 276.1h2.3v2.3h-2.3zM421.9 276.8h2.1v2.1h-2.1zM444.0 276.5h1.8v1.8h-1.8zM450.7 276.9h2.1v2.1h-2.1zM462.7 276.0h1.9v1.9h-1.9zM478.9 275.6h1.7v1.7h-1.7zM495.8 275.6h1.9v1.9h-1.9zM498.4 276.7h1.9v1.9h-1.9zM553.0 275.4h1.7v1.7h-1.7zM559.5 276.0h1.8v1.8h-1.8zM570.9 277.0h1.9v1.9h-1.9zM583.8 276.6h2.0v2.0h-2.0zM611.5 275.7h2.2v2.2h-2.2zM631.1 275.5h2.1v2.1h-2.1zM634.6 277.2h2.2v2.2h-2.2zM638.2 276.8h2.3v2.3h-2.3zM648.9 275.9h2.2v2.2h-2.2zM668.5 275.7h2.5v2.5h-2.5zM355.1 279.9h2.4v2.4h-2.4zM387.7 279.4h2.2v2.2h-2.2zM394.6 279.7h2.0v2.0h-2.0zM404.9 279.8h2.1v2.1h-2.1zM446.5 279.6h1.8v1.8h-1.8zM487.8 280.2h1.8v1.8h-1.8zM571.8 280.1h1.9v1.9h-1.9zM592.8 279.5h1.9v1.9h-1.9zM602.8 280.1h1.9v1.9h-1.9zM609.3 280.3h1.9v1.9h-1.9zM664.6 280.1h2.2v2.2h-2.2zM667.7 279.0h2.6v2.6h-2.6zM673.6 280.3h2.3v2.3h-2.3zM352.1 283.1h2.2v2.2h-2.2zM380.2 283.9h2.1v2.1h-2.1zM383.1 283.3h1.9v1.9h-1.9zM400.9 282.5h2.0v2.0h-2.0zM472.9 282.4h1.7v1.7h-1.7zM489.0 282.8h1.7v1.7h-1.7zM502.7 282.8h1.6v1.6h-1.6zM526.7 282.3h1.8v1.8h-1.8zM533.4 283.3h1.6v1.6h-1.6zM552.7 283.8h1.7v1.7h-1.7zM563.1 283.2h1.9v1.9h-1.9zM632.0 282.3h2.2v2.2h-2.2zM644.5 283.3h2.2v2.2h-2.2zM662.1 283.7h2.3v2.3h-2.3zM676.8 282.9h2.5v2.5h-2.5zM320.5 286.4h2.8v2.8h-2.8zM326.9 287.3h2.4v2.4h-2.4zM347.2 285.8h2.3v2.3h-2.3zM380.9 286.9h1.9v1.9h-1.9zM397.8 287.0h2.0v2.0h-2.0zM465.9 285.6h1.8v1.8h-1.8zM480.3 286.4h1.5v1.5h-1.5zM490.0 287.0h1.8v1.8h-1.8zM518.0 287.1h1.9v1.9h-1.9zM575.4 285.8h1.7v1.7h-1.7zM608.9 285.7h1.8v1.8h-1.8zM669.8 287.0h2.1v2.1h-2.1zM673.4 286.4h2.3v2.3h-2.3zM676.7 286.2h2.1v2.1h-2.1zM690.1 286.1h2.5v2.5h-2.5zM693.8 287.3h2.6v2.6h-2.6zM697.8 286.5h2.7v2.7h-2.7zM335.7 290.5h2.1v2.1h-2.1zM371.0 289.3h2.1v2.1h-2.1zM499.3 289.8h1.6v1.6h-1.6zM502.9 289.2h1.9v1.9h-1.9zM546.7 289.9h1.7v1.7h-1.7zM624.7 290.8h1.7v1.7h-1.7zM633.1 290.6h1.7v1.7h-1.7zM663.0 289.9h2.1v2.1h-2.1zM687.2 289.7h2.5v2.5h-2.5zM697.7 290.8h2.3v2.3h-2.3zM703.9 289.5h2.8v2.8h-2.8zM304.3 293.9h2.4v2.4h-2.4zM311.7 293.1h2.3v2.3h-2.3zM324.7 292.5h2.4v2.4h-2.4zM347.9 293.0h2.0v2.0h-2.0zM372.1 293.0h1.8v1.8h-1.8zM420.1 293.6h1.7v1.7h-1.7zM451.4 294.0h1.5v1.5h-1.5zM457.8 293.1h1.7v1.7h-1.7zM538.6 293.2h1.8v1.8h-1.8zM640.5 293.4h1.8v1.8h-1.8zM665.0 292.9h1.8v1.8h-1.8zM671.3 293.3h1.9v1.9h-1.9zM689.1 294.1h2.3v2.3h-2.3zM703.1 293.8h2.4v2.4h-2.4zM706.4 294.2h2.2v2.2h-2.2zM708.4 293.2h2.3v2.3h-2.3zM711.7 292.8h2.7v2.7h-2.7zM276.6 297.2h2.7v2.7h-2.7zM280.3 296.7h2.8v2.8h-2.8zM287.2 297.3h2.4v2.4h-2.4zM297.5 297.6h2.5v2.5h-2.5zM300.8 296.8h2.2v2.2h-2.2zM314.4 296.9h2.4v2.4h-2.4zM400.0 297.0h1.8v1.8h-1.8zM502.1 296.9h1.7v1.7h-1.7zM525.4 297.0h1.5v1.5h-1.5zM545.6 295.8h1.7v1.7h-1.7zM627.9 297.2h1.6v1.6h-1.6zM634.2 296.8h1.8v1.8h-1.8zM651.4 297.6h1.8v1.8h-1.8zM660.7 296.5h1.9v1.9h-1.9zM704.8 297.0h2.3v2.3h-2.3zM268.7 299.9h2.4v2.4h-2.4zM271.4 299.5h2.7v2.7h-2.7zM275.3 300.1h2.6v2.6h-2.6zM285.5 299.7h2.3v2.3h-2.3zM292.1 300.2h2.1v2.1h-2.1zM299.3 300.3h2.1v2.1h-2.1zM319.0 299.4h1.9v1.9h-1.9zM333.1 300.8h2.1v2.1h-2.1zM349.9 300.8h2.0v2.0h-2.0zM413.9 300.4h1.5v1.5h-1.5zM424.0 300.0h1.7v1.7h-1.7zM428.1 299.6h1.5v1.5h-1.5zM690.4 300.9h2.0v2.0h-2.0zM699.8 300.4h2.2v2.2h-2.2zM702.6 300.0h2.3v2.3h-2.3zM717.3 300.9h2.4v2.4h-2.4zM236.7 304.1h2.4v2.4h-2.4zM259.3 304.0h2.6v2.6h-2.6zM263.2 304.1h2.4v2.4h-2.4zM267.5 303.3h2.2v2.2h-2.2zM307.0 304.3h1.9v1.9h-1.9zM313.5 304.0h2.0v2.0h-2.0zM325.1 302.9h1.9v1.9h-1.9zM327.8 303.6h1.8v1.8h-1.8zM334.6 304.1h2.0v2.0h-2.0zM378.7 303.1h1.9v1.9h-1.9zM463.8 303.6h1.4v1.4h-1.4zM644.3 304.0h1.8v1.8h-1.8zM665.2 302.9h1.9v1.9h-1.9zM677.8 304.2h1.8v1.8h-1.8zM699.1 303.4h1.8v1.8h-1.8zM722.2 303.5h2.2v2.2h-2.2zM729.8 302.8h2.7v2.7h-2.7zM735.4 304.2h2.5v2.5h-2.5zM227.9 307.6h2.5v2.5h-2.5zM232.6 306.1h2.5v2.5h-2.5zM253.2 306.6h2.4v2.4h-2.4zM255.8 307.0h2.3v2.3h-2.3zM282.7 306.1h2.1v2.1h-2.1zM286.7 306.5h2.2v2.2h-2.2zM338.0 306.8h2.0v2.0h-2.0zM415.1 307.4h1.8v1.8h-1.8zM469.9 306.8h1.8v1.8h-1.8zM545.4 306.2h1.6v1.6h-1.6zM265.1 311.0h2.0v2.0h-2.0zM271.8 310.7h2.2v2.2h-2.2zM288.5 309.7h2.2v2.2h-2.2zM291.2 311.2h1.8v1.8h-1.8zM376.4 309.7h1.6v1.6h-1.6zM591.6 309.8h1.7v1.7h-1.7zM621.8 309.6h1.8v1.8h-1.8zM692.9 311.1h1.6v1.6h-1.6zM697.4 311.1h1.8v1.8h-1.8zM705.9 309.9h1.9v1.9h-1.9zM709.3 310.7h1.8v1.8h-1.8zM726.4 309.6h2.3v2.3h-2.3zM224.5 313.6h2.4v2.4h-2.4zM227.8 313.9h2.4v2.4h-2.4zM240.8 314.4h2.3v2.3h-2.3zM250.0 314.2h2.1v2.1h-2.1zM258.5 313.5h1.9v1.9h-1.9zM304.7 313.2h1.8v1.8h-1.8zM394.5 313.8h1.5v1.5h-1.5zM641.7 314.6h1.5v1.5h-1.5zM726.9 313.7h1.9v1.9h-1.9zM730.8 314.2h2.0v2.0h-2.0zM733.8 313.1h2.3v2.3h-2.3zM749.8 314.5h2.3v2.3h-2.3zM223.2 317.6h2.6v2.6h-2.6zM250.5 316.8h2.0v2.0h-2.0zM288.1 317.8h1.7v1.7h-1.7zM509.2 317.6h1.6v1.6h-1.6zM668.4 317.8h1.8v1.8h-1.8zM678.1 317.4h1.7v1.7h-1.7zM221.3 321.3h2.6v2.6h-2.6zM224.7 320.8h2.4v2.4h-2.4zM248.5 320.8h2.1v2.1h-2.1zM279.1 321.4h2.0v2.0h-2.0zM305.8 320.8h2.0v2.0h-2.0zM723.9 320.2h2.0v2.0h-2.0zM224.1 323.3h2.7v2.7h-2.7zM231.7 324.6h2.4v2.4h-2.4zM314.1 323.2h1.7v1.7h-1.7zM428.7 323.5h1.5v1.5h-1.5zM710.4 324.1h1.6v1.6h-1.6zM735.3 324.7h2.1v2.1h-2.1zM744.4 323.9h2.0v2.0h-2.0zM748.2 323.7h2.2v2.2h-2.2zM757.9 324.8h2.5v2.5h-2.5zM764.7 323.9h2.6v2.6h-2.6zM769.0 323.4h2.7v2.7h-2.7zM224.7 327.3h2.8v2.8h-2.8zM603.0 327.9h1.5v1.5h-1.5zM712.0 326.7h1.7v1.7h-1.7zM720.7 328.0h1.8v1.8h-1.8zM724.5 326.8h2.0v2.0h-2.0zM748.9 326.6h1.9v1.9h-1.9zM220.1 330.6h2.7v2.7h-2.7zM226.4 330.2h2.8v2.8h-2.8zM267.1 331.2h1.9v1.9h-1.9zM277.1 330.1h2.0v2.0h-2.0zM298.1 331.1h2.0v2.0h-2.0zM467.0 330.4h1.5v1.5h-1.5zM562.2 331.4h1.7v1.7h-1.7zM638.7 329.9h1.7v1.7h-1.7zM664.3 331.4h1.7v1.7h-1.7zM754.2 330.1h2.1v2.1h-2.1zM766.1 330.5h2.3v2.3h-2.3zM218.1 334.2h2.8v2.8h-2.8zM226.4 333.4h2.4v2.4h-2.4zM256.7 334.1h2.0v2.0h-2.0zM296.9 333.8h1.9v1.9h-1.9zM318.3 335.0h1.7v1.7h-1.7zM545.4 334.3h1.7v1.7h-1.7zM653.4 333.9h1.4v1.4h-1.4zM663.9 333.4h1.7v1.7h-1.7zM741.7 333.4h1.8v1.8h-1.8zM756.4 333.7h1.9v1.9h-1.9zM773.3 334.0h2.5v2.5h-2.5zM222.7 338.1h2.5v2.5h-2.5zM245.2 338.2h2.0v2.0h-2.0zM252.7 336.8h1.8v1.8h-1.8zM263.1 337.7h1.7v1.7h-1.7zM279.9 337.4h1.9v1.9h-1.9zM293.0 336.7h1.8v1.8h-1.8zM313.0 336.9h1.9v1.9h-1.9zM433.7 337.6h1.7v1.7h-1.7zM673.7 337.4h1.8v1.8h-1.8zM690.8 337.6h1.5v1.5h-1.5zM725.5 338.1h1.6v1.6h-1.6zM752.2 337.2h1.7v1.7h-1.7zM766.6 337.7h2.0v2.0h-2.0zM770.3 337.3h2.2v2.2h-2.2zM772.9 337.7h2.4v2.4h-2.4zM288.0 340.5h1.7v1.7h-1.7zM306.4 341.4h1.8v1.8h-1.8zM326.1 341.4h2.0v2.0h-2.0zM414.8 341.7h1.7v1.7h-1.7zM649.3 340.7h1.6v1.6h-1.6zM736.9 341.2h1.8v1.8h-1.8zM740.7 340.2h1.6v1.6h-1.6zM747.1 340.7h1.9v1.9h-1.9zM750.6 340.3h1.9v1.9h-1.9zM761.8 340.5h2.0v2.0h-2.0zM298.5 344.6h2.0v2.0h-2.0zM302.5 343.8h2.0v2.0h-2.0zM313.1 345.0h1.7v1.7h-1.7zM567.9 345.0h1.6v1.6h-1.6zM580.7 343.9h1.4v1.4h-1.4zM686.2 344.6h1.5v1.5h-1.5zM736.4 344.3h1.5v1.5h-1.5zM782.2 343.5h2.2v2.2h-2.2zM230.3 348.5h2.5v2.5h-2.5zM237.1 347.6h2.7v2.7h-2.7zM243.9 347.0h2.4v2.4h-2.4zM268.2 347.0h1.7v1.7h-1.7zM315.1 348.6h2.0v2.0h-2.0zM325.1 347.4h1.8v1.8h-1.8zM386.0 348.2h1.7v1.7h-1.7zM726.7 348.4h1.7v1.7h-1.7zM743.7 347.0h1.6v1.6h-1.6zM775.0 347.3h2.0v2.0h-2.0zM791.9 348.4h2.4v2.4h-2.4zM793.9 347.9h2.2v2.2h-2.2zM798.1 348.2h2.5v2.5h-2.5zM235.2 351.5h2.5v2.5h-2.5zM240.9 351.1h2.6v2.6h-2.6zM244.0 351.1h2.7v2.7h-2.7zM299.2 351.7h1.8v1.8h-1.8zM332.6 352.0h1.7v1.7h-1.7zM346.3 351.0h1.7v1.7h-1.7zM536.7 350.7h1.4v1.4h-1.4zM642.8 350.6h1.4v1.4h-1.4zM741.3 351.7h1.7v1.7h-1.7zM751.0 351.9h1.9v1.9h-1.9zM788.7 350.8h2.3v2.3h-2.3zM795.6 351.0h2.4v2.4h-2.4zM798.2 351.6h2.5v2.5h-2.5zM254.2 354.3h2.4v2.4h-2.4zM277.3 355.1h2.0v2.0h-2.0zM301.9 354.2h1.9v1.9h-1.9zM310.9 354.1h1.7v1.7h-1.7zM315.2 355.0h1.9v1.9h-1.9zM332.3 354.9h1.7v1.7h-1.7zM515.9 354.8h1.5v1.5h-1.5zM726.1 354.0h1.5v1.5h-1.5zM798.1 355.0h2.4v2.4h-2.4zM807.5 354.9h2.4v2.4h-2.4zM252.5 358.0h2.7v2.7h-2.7zM288.9 357.8h1.9v1.9h-1.9zM319.8 357.1h1.8v1.8h-1.8zM451.7 358.4h1.7v1.7h-1.7zM476.7 357.1h1.5v1.5h-1.5zM535.0 358.1h1.6v1.6h-1.6zM772.2 358.8h1.9v1.9h-1.9zM778.7 357.9h1.7v1.7h-1.7zM789.9 358.1h1.9v1.9h-1.9zM257.8 360.8h2.5v2.5h-2.5zM269.4 361.6h2.2v2.2h-2.2zM315.8 361.8h1.8v1.8h-1.8zM350.9 360.5h1.4v1.4h-1.4zM516.9 361.4h1.6v1.6h-1.6zM595.8 362.0h1.5v1.5h-1.5zM744.2 361.4h1.4v1.4h-1.4zM791.6 361.0h1.8v1.8h-1.8zM799.0 362.2h2.2v2.2h-2.2zM809.5 360.5h2.3v2.3h-2.3zM813.0 360.7h2.5v2.5h-2.5zM273.2 364.4h2.2v2.2h-2.2zM303.7 364.1h2.0v2.0h-2.0zM735.3 364.9h1.6v1.6h-1.6zM809.9 364.6h2.1v2.1h-2.1zM265.8 368.0h2.8v2.8h-2.8zM276.5 367.8h2.4v2.4h-2.4zM279.4 368.5h2.6v2.6h-2.6zM283.6 369.0h2.3v2.3h-2.3zM326.8 367.4h2.0v2.0h-2.0zM464.3 368.2h1.4v1.4h-1.4zM790.8 368.8h2.1v2.1h-2.1zM803.3 368.6h2.1v2.1h-2.1zM824.5 368.9h2.5v2.5h-2.5zM274.1 371.7h2.6v2.6h-2.6zM285.5 371.7h2.6v2.6h-2.6zM297.6 371.3h2.1v2.1h-2.1zM319.1 370.7h2.0v2.0h-2.0zM655.8 372.2h1.7v1.7h-1.7zM693.0 371.3h1.7v1.7h-1.7zM716.6 371.5h1.4v1.4h-1.4zM787.3 372.0h1.9v1.9h-1.9zM825.2 370.8h2.7v2.7h-2.7zM828.6 372.4h2.7v2.7h-2.7zM287.7 374.2h2.5v2.5h-2.5zM351.5 375.7h1.4v1.4h-1.4zM572.2 375.5h1.7v1.7h-1.7zM706.3 375.3h1.5v1.5h-1.5zM824.3 375.8h2.4v2.4h-2.4zM831.9 375.1h2.5v2.5h-2.5zM295.3 377.9h2.6v2.6h-2.6zM301.5 377.6h2.2v2.2h-2.2zM308.5 378.0h2.2v2.2h-2.2zM345.7 379.0h1.5v1.5h-1.5zM451.9 377.7h1.6v1.6h-1.6zM766.9 378.3h1.7v1.7h-1.7zM791.2 377.8h1.9v1.9h-1.9zM815.7 378.6h1.9v1.9h-1.9zM822.6 378.1h2.2v2.2h-2.2zM828.5 377.7h2.5v2.5h-2.5zM832.3 379.1h2.5v2.5h-2.5zM296.6 382.0h2.4v2.4h-2.4zM304.2 380.8h2.4v2.4h-2.4zM324.5 382.6h2.1v2.1h-2.1zM722.4 382.6h1.5v1.5h-1.5zM797.9 381.3h1.9v1.9h-1.9zM835.1 382.4h2.5v2.5h-2.5zM304.4 384.9h2.5v2.5h-2.5zM313.4 385.8h2.6v2.6h-2.6zM792.6 385.9h1.5v1.5h-1.5zM810.1 384.8h1.8v1.8h-1.8zM826.5 384.4h2.3v2.3h-2.3zM838.1 384.5h2.7v2.7h-2.7zM314.9 387.7h2.4v2.4h-2.4zM324.6 388.4h2.7v2.7h-2.7zM346.0 388.3h1.9v1.9h-1.9zM601.0 388.8h1.5v1.5h-1.5zM825.3 389.2h2.2v2.2h-2.2zM831.8 388.2h2.5v2.5h-2.5zM835.9 387.8h2.8v2.8h-2.8zM841.2 388.4h2.5v2.5h-2.5zM323.7 391.0h2.6v2.6h-2.6zM330.4 392.0h2.6v2.6h-2.6zM340.7 392.2h2.4v2.4h-2.4zM353.3 392.2h1.9v1.9h-1.9zM540.5 391.6h1.4v1.4h-1.4zM544.6 391.3h1.7v1.7h-1.7zM772.7 391.8h1.5v1.5h-1.5zM790.1 392.7h1.8v1.8h-1.8zM844.6 392.4h2.6v2.6h-2.6zM342.5 395.2h2.7v2.7h-2.7zM346.5 395.6h2.4v2.4h-2.4zM349.5 394.6h2.4v2.4h-2.4zM362.9 395.9h2.0v2.0h-2.0zM365.9 395.4h2.0v2.0h-2.0zM468.1 394.7h1.5v1.5h-1.5zM745.0 394.5h1.5v1.5h-1.5zM821.5 395.0h2.2v2.2h-2.2zM829.1 394.9h2.7v2.7h-2.7zM840.2 395.9h2.8v2.8h-2.8zM341.8 398.5h2.5v2.5h-2.5zM817.8 399.5h2.2v2.2h-2.2zM827.0 397.9h2.7v2.7h-2.7zM837.3 399.4h2.6v2.6h-2.6zM360.9 402.0h2.6v2.6h-2.6zM363.9 401.3h2.7v2.7h-2.7zM374.4 402.2h2.1v2.1h-2.1zM379.8 402.0h2.3v2.3h-2.3zM412.1 402.0h1.6v1.6h-1.6zM499.0 401.4h1.7v1.7h-1.7zM570.3 402.1h1.5v1.5h-1.5zM788.1 402.8h1.7v1.7h-1.7zM809.3 402.8h2.2v2.2h-2.2zM822.8 401.3h2.7v2.7h-2.7zM825.2 402.2h2.6v2.6h-2.6zM362.8 405.3h2.7v2.7h-2.7zM373.9 405.6h2.7v2.7h-2.7zM377.8 405.4h2.8v2.8h-2.8zM384.8 406.2h2.4v2.4h-2.4zM387.8 404.8h2.1v2.1h-2.1zM396.8 405.5h2.1v2.1h-2.1zM415.3 406.2h1.7v1.7h-1.7zM431.8 404.8h1.5v1.5h-1.5zM458.9 404.7h1.4v1.4h-1.4zM646.0 406.1h1.6v1.6h-1.6zM771.0 405.1h1.8v1.8h-1.8zM821.7 406.1h2.5v2.5h-2.5zM376.1 408.2h2.6v2.6h-2.6zM386.0 409.4h2.5v2.5h-2.5zM389.5 408.4h2.4v2.4h-2.4zM437.0 408.5h1.9v1.9h-1.9zM463.4 408.5h1.4v1.4h-1.4zM491.0 409.2h1.4v1.4h-1.4zM535.4 409.0h1.6v1.6h-1.6zM687.7 409.8h1.5v1.5h-1.5zM773.0 408.1h1.5v1.5h-1.5zM810.6 408.7h2.6v2.6h-2.6zM814.5 408.9h2.7v2.7h-2.7zM384.5 411.5h2.5v2.5h-2.5zM395.6 412.7h2.7v2.7h-2.7zM398.3 411.5h2.5v2.5h-2.5zM402.4 412.6h2.6v2.6h-2.6zM414.7 412.1h2.2v2.2h-2.2zM438.8 412.6h1.7v1.7h-1.7zM769.7 412.3h1.6v1.6h-1.6zM803.4 412.0h2.4v2.4h-2.4zM809.2 411.4h2.5v2.5h-2.5zM406.2 415.8h2.6v2.6h-2.6zM414.2 416.6h2.7v2.7h-2.7zM416.6 415.1h2.5v2.5h-2.5zM430.1 415.3h2.1v2.1h-2.1zM455.2 416.3h1.7v1.7h-1.7zM458.1 416.5h1.7v1.7h-1.7zM634.4 416.2h1.7v1.7h-1.7zM798.5 416.1h2.4v2.4h-2.4zM801.1 414.9h2.3v2.3h-2.3zM807.7 415.2h2.5v2.5h-2.5zM408.5 418.3h2.5v2.5h-2.5zM421.7 418.4h2.8v2.8h-2.8zM429.6 418.8h2.4v2.4h-2.4zM439.1 418.7h1.9v1.9h-1.9zM479.6 419.4h1.8v1.8h-1.8zM510.5 419.6h1.7v1.7h-1.7zM523.5 419.9h1.4v1.4h-1.4zM575.4 418.9h1.5v1.5h-1.5zM778.8 419.6h2.1v2.1h-2.1zM782.5 419.7h1.8v1.8h-1.8zM792.2 419.2h2.5v2.5h-2.5zM795.6 419.0h2.5v2.5h-2.5zM802.2 418.3h2.6v2.6h-2.6zM432.3 422.0h2.8v2.8h-2.8zM452.7 422.1h2.2v2.2h-2.2zM456.3 423.1h2.0v2.0h-2.0zM738.8 422.0h1.7v1.7h-1.7zM755.2 422.7h1.7v1.7h-1.7zM771.8 422.9h1.9v1.9h-1.9zM785.5 423.2h2.5v2.5h-2.5zM795.7 422.9h2.4v2.4h-2.4zM432.7 425.1h2.4v2.4h-2.4zM449.3 425.2h2.5v2.5h-2.5zM470.9 426.4h2.0v2.0h-2.0zM498.3 426.0h1.7v1.7h-1.7zM579.0 426.5h1.5v1.5h-1.5zM770.2 426.5h2.2v2.2h-2.2zM779.5 426.0h2.7v2.7h-2.7zM451.6 428.9h2.5v2.5h-2.5zM465.8 429.5h2.3v2.3h-2.3zM473.1 429.7h2.1v2.1h-2.1zM489.7 429.9h1.9v1.9h-1.9zM499.2 429.1h1.6v1.6h-1.6zM775.5 428.7h2.8v2.8h-2.8zM483.3 433.5h2.0v2.0h-2.0zM491.0 433.0h2.1v2.1h-2.1zM507.5 432.3h1.7v1.7h-1.7zM643.4 432.7h1.5v1.5h-1.5zM762.5 433.2h2.4v2.4h-2.4zM473.7 435.7h2.6v2.6h-2.6zM476.5 435.8h2.6v2.6h-2.6zM480.4 435.6h2.6v2.6h-2.6zM486.6 436.2h2.2v2.2h-2.2zM490.4 435.6h2.1v2.1h-2.1zM498.2 436.0h1.7v1.7h-1.7zM752.9 436.9h2.5v2.5h-2.5zM755.6 435.7h2.5v2.5h-2.5zM758.7 435.5h2.4v2.4h-2.4zM762.8 435.6h2.6v2.6h-2.6zM482.9 440.1h2.5v2.5h-2.5zM488.6 439.2h2.5v2.5h-2.5zM499.4 439.8h2.1v2.1h-2.1zM510.5 438.8h1.7v1.7h-1.7zM516.6 439.3h1.6v1.6h-1.6zM524.0 439.6h1.6v1.6h-1.6zM696.4 439.6h1.7v1.7h-1.7zM741.1 439.0h2.1v2.1h-2.1zM751.1 438.9h2.6v2.6h-2.6zM754.9 438.7h2.5v2.5h-2.5zM490.9 442.4h2.4v2.4h-2.4zM616.6 442.6h1.7v1.7h-1.7zM691.2 443.6h1.6v1.6h-1.6zM694.5 443.1h1.6v1.6h-1.6zM735.5 443.6h2.6v2.6h-2.6zM740.2 442.7h2.6v2.6h-2.6zM748.6 443.4h2.6v2.6h-2.6zM506.0 445.8h2.4v2.4h-2.4zM535.9 447.1h2.0v2.0h-2.0zM542.8 446.8h1.8v1.8h-1.8zM702.8 445.6h2.0v2.0h-2.0zM731.4 446.2h2.4v2.4h-2.4zM734.7 445.9h2.7v2.7h-2.7zM513.6 449.1h2.8v2.8h-2.8zM521.0 449.5h2.4v2.4h-2.4zM524.0 448.9h2.2v2.2h-2.2zM528.1 449.2h2.4v2.4h-2.4zM535.0 449.0h2.2v2.2h-2.2zM654.1 449.1h1.4v1.4h-1.4zM705.1 449.8h2.2v2.2h-2.2zM723.9 450.3h2.6v2.6h-2.6zM727.9 449.8h2.4v2.4h-2.4zM524.8 453.1h2.6v2.6h-2.6zM534.6 453.0h2.4v2.4h-2.4zM538.1 453.1h2.5v2.5h-2.5zM542.4 453.6h2.5v2.5h-2.5zM558.8 452.7h1.9v1.9h-1.9zM569.6 453.1h1.9v1.9h-1.9zM585.4 452.5h2.0v2.0h-2.0zM631.2 453.6h1.8v1.8h-1.8zM650.1 452.5h1.5v1.5h-1.5zM671.5 453.5h1.7v1.7h-1.7zM690.7 453.4h2.3v2.3h-2.3zM697.6 453.5h2.2v2.2h-2.2zM704.7 453.0h2.4v2.4h-2.4zM711.2 452.6h2.7v2.7h-2.7zM532.5 456.0h2.4v2.4h-2.4zM537.5 456.1h2.6v2.6h-2.6zM539.4 455.8h2.8v2.8h-2.8zM546.8 456.6h2.4v2.4h-2.4zM597.2 455.8h1.7v1.7h-1.7zM645.5 457.3h1.9v1.9h-1.9zM649.3 457.0h1.7v1.7h-1.7zM682.6 456.9h2.3v2.3h-2.3zM704.1 456.3h2.7v2.7h-2.7zM549.2 460.4h2.5v2.5h-2.5zM562.7 459.9h2.7v2.7h-2.7zM579.2 460.1h2.2v2.2h-2.2zM599.1 460.0h2.2v2.2h-2.2zM626.1 459.9h2.1v2.1h-2.1zM630.5 459.6h2.0v2.0h-2.0zM637.0 460.8h2.2v2.2h-2.2zM647.0 460.3h1.8v1.8h-1.8zM673.6 460.7h2.5v2.5h-2.5zM681.1 459.8h2.4v2.4h-2.4zM685.2 459.6h2.6v2.6h-2.6zM571.2 463.4h2.5v2.5h-2.5zM581.4 464.0h2.7v2.7h-2.7zM594.8 463.9h2.7v2.7h-2.7zM608.7 464.2h2.4v2.4h-2.4zM632.3 463.0h2.2v2.2h-2.2zM646.3 462.7h2.3v2.3h-2.3zM655.9 463.3h2.2v2.2h-2.2zM676.3 463.2h2.7v2.7h-2.7zM679.7 463.4h2.5v2.5h-2.5zM575.6 465.8h2.8v2.8h-2.8zM595.4 466.0h2.7v2.7h-2.7zM599.0 466.4h2.6v2.6h-2.6zM620.4 466.1h2.5v2.5h-2.5zM622.4 466.3h2.7v2.7h-2.7zM639.2 466.8h2.7v2.7h-2.7zM644.0 467.0h2.7v2.7h-2.7zM647.4 466.7h2.5v2.5h-2.5zM649.4 466.1h2.4v2.4h-2.4zM661.0 466.7h2.6v2.6h-2.6zM667.7 466.8h2.8v2.8h-2.8zM670.5 466.1h2.5v2.5h-2.5zM631.8 470.2h2.4v2.4h-2.4z"/><path fill="#2a2a2a" d="M526.0 253.3h2.6v2.6h-2.6zM539.4 252.9h2.6v2.6h-2.6zM546.4 252.9h2.5v2.5h-2.5zM560.2 253.1h2.8v2.8h-2.8zM563.2 253.3h2.5v2.5h-2.5zM471.9 256.0h2.5v2.5h-2.5zM478.2 255.3h2.6v2.6h-2.6zM498.7 255.8h2.5v2.5h-2.5zM507.0 256.4h2.3v2.3h-2.3zM520.5 256.6h2.3v2.3h-2.3zM522.8 255.1h2.4v2.4h-2.4zM530.9 255.9h2.4v2.4h-2.4zM537.4 256.4h2.5v2.5h-2.5zM540.8 255.7h2.7v2.7h-2.7zM553.0 255.4h2.3v2.3h-2.3zM567.7 255.5h2.7v2.7h-2.7zM580.4 256.1h2.4v2.4h-2.4zM439.0 259.5h2.6v2.6h-2.6zM446.3 258.7h2.6v2.6h-2.6zM449.1 260.1h2.6v2.6h-2.6zM458.9 260.1h2.5v2.5h-2.5zM463.7 259.0h2.6v2.6h-2.6zM470.5 258.9h2.4v2.4h-2.4zM504.6 260.2h2.2v2.2h-2.2zM507.9 259.7h2.2v2.2h-2.2zM521.6 258.9h2.5v2.5h-2.5zM558.1 259.8h2.5v2.5h-2.5zM560.8 258.6h2.5v2.5h-2.5zM578.1 259.3h2.4v2.4h-2.4zM587.9 259.3h2.5v2.5h-2.5zM595.7 259.9h2.4v2.4h-2.4zM598.9 259.7h2.7v2.7h-2.7zM417.8 262.6h2.6v2.6h-2.6zM427.4 262.3h2.6v2.6h-2.6zM441.2 262.4h2.6v2.6h-2.6zM451.6 263.3h2.5v2.5h-2.5zM458.0 262.9h2.3v2.3h-2.3zM478.4 262.2h2.2v2.2h-2.2zM488.7 262.8h2.1v2.1h-2.1zM499.7 263.6h2.4v2.4h-2.4zM518.8 262.1h2.1v2.1h-2.1zM550.5 262.5h2.3v2.3h-2.3zM586.9 263.4h2.2v2.2h-2.2zM608.8 263.6h2.4v2.4h-2.4zM610.9 262.5h2.6v2.6h-2.6zM619.1 262.8h2.6v2.6h-2.6zM400.0 265.4h2.5v2.5h-2.5zM416.9 266.9h2.3v2.3h-2.3zM420.1 266.0h2.5v2.5h-2.5zM440.7 266.5h2.1v2.1h-2.1zM448.3 265.7h2.4v2.4h-2.4zM454.2 265.6h2.3v2.3h-2.3zM464.3 266.5h2.2v2.2h-2.2zM493.1 266.4h2.1v2.1h-2.1zM509.9 265.7h2.3v2.3h-2.3zM513.0 266.2h2.2v2.2h-2.2zM516.6 266.9h2.1v2.1h-2.1zM551.0 266.3h2.0v2.0h-2.0zM566.5 266.9h2.0v2.0h-2.0zM581.6 266.7h2.1v2.1h-2.1zM584.0 266.9h2.0v2.0h-2.0zM593.8 265.5h2.3v2.3h-2.3zM600.7 266.8h2.2v2.2h-2.2zM618.7 265.8h2.4v2.4h-2.4zM628.2 265.5h2.4v2.4h-2.4zM638.9 266.8h2.8v2.8h-2.8zM496.4 269.8h2.1v2.1h-2.1zM583.3 269.1h2.3v2.3h-2.3zM587.1 268.7h2.2v2.2h-2.2zM601.1 269.4h2.2v2.2h-2.2zM608.5 270.2h2.1v2.1h-2.1zM614.5 270.3h2.2v2.2h-2.2zM635.7 269.9h2.4v2.4h-2.4zM641.8 270.3h2.3v2.3h-2.3zM365.9 273.3h2.7v2.7h-2.7zM393.5 272.4h2.5v2.5h-2.5zM403.5 272.9h2.4v2.4h-2.4zM435.3 272.5h2.2v2.2h-2.2zM438.3 272.2h2.2v2.2h-2.2zM445.2 273.7h2.0v2.0h-2.0zM475.2 272.3h1.9v1.9h-1.9zM492.1 273.2h1.9v1.9h-1.9zM556.1 273.0h1.8v1.8h-1.8zM560.4 272.6h1.9v1.9h-1.9zM579.9 272.3h1.9v1.9h-1.9zM632.1 272.8h2.2v2.2h-2.2zM641.6 272.7h2.2v2.2h-2.2zM658.3 272.7h2.4v2.4h-2.4zM661.4 272.9h2.4v2.4h-2.4zM370.3 276.5h2.6v2.6h-2.6zM376.5 275.6h2.3v2.3h-2.3zM384.1 277.2h2.4v2.4h-2.4zM415.1 275.7h2.0v2.0h-2.0zM424.3 276.3h2.0v2.0h-2.0zM431.6 275.5h1.9v1.9h-1.9zM468.6 275.9h2.1v2.1h-2.1zM506.0 275.6h1.9v1.9h-1.9zM539.6 276.4h1.9v1.9h-1.9zM544.0 276.4h1.9v1.9h-1.9zM574.5 275.8h1.7v1.7h-1.7zM577.3 277.2h1.9v1.9h-1.9zM607.3 275.6h1.9v1.9h-1.9zM621.7 275.9h2.1v2.1h-2.1zM625.6 276.4h2.0v2.0h-2.0zM659.2 277.1h2.4v2.4h-2.4zM661.6 276.5h2.6v2.6h-2.6zM666.4 276.7h2.3v2.3h-2.3zM351.8 279.0h2.3v2.3h-2.3zM358.1 279.6h2.5v2.5h-2.5zM374.9 279.6h2.3v2.3h-2.3zM378.7 279.4h2.1v2.1h-2.1zM384.8 280.3h2.2v2.2h-2.2zM418.6 279.8h2.1v2.1h-2.1zM463.6 279.8h1.7v1.7h-1.7zM504.2 280.2h2.0v2.0h-2.0zM528.3 280.3h1.7v1.7h-1.7zM575.4 279.3h2.0v2.0h-2.0zM616.9 279.3h1.8v1.8h-1.8zM619.9 279.7h2.0v2.0h-2.0zM624.0 279.8h2.0v2.0h-2.0zM642.8 280.5h2.2v2.2h-2.2zM656.8 279.8h2.3v2.3h-2.3zM660.3 280.2h2.2v2.2h-2.2zM671.2 279.4h2.6v2.6h-2.6zM680.4 279.8h2.5v2.5h-2.5zM332.2 282.5h2.5v2.5h-2.5zM336.1 282.5h2.4v2.4h-2.4zM345.7 283.3h2.3v2.3h-2.3zM356.2 283.9h2.1v2.1h-2.1zM359.2 283.6h2.2v2.2h-2.2zM363.2 283.2h2.2v2.2h-2.2zM393.9 283.2h2.2v2.2h-2.2zM404.2 282.3h1.9v1.9h-1.9zM409.9 283.3h2.0v2.0h-2.0zM420.8 283.6h1.8v1.8h-1.8zM482.9 283.9h2.0v2.0h-2.0zM523.1 284.0h1.6v1.6h-1.6zM530.2 283.8h1.6v1.6h-1.6zM570.3 282.9h1.9v1.9h-1.9zM590.5 283.3h1.7v1.7h-1.7zM601.8 283.8h1.7v1.7h-1.7zM608.7 282.6h1.8v1.8h-1.8zM635.7 283.4h2.1v2.1h-2.1zM648.5 282.3h1.9v1.9h-1.9zM652.8 283.1h2.0v2.0h-2.0zM685.6 282.4h2.5v2.5h-2.5zM689.7 284.0h2.4v2.4h-2.4zM322.7 286.0h2.7v2.7h-2.7zM358.0 286.1h2.3v2.3h-2.3zM483.4 287.4h1.7v1.7h-1.7zM622.2 287.3h1.8v1.8h-1.8zM662.7 286.5h2.1v2.1h-2.1zM680.6 286.5h2.2v2.2h-2.2zM687.1 287.4h2.4v2.4h-2.4zM312.2 289.3h2.7v2.7h-2.7zM318.8 290.6h2.5v2.5h-2.5zM322.9 290.4h2.4v2.4h-2.4zM333.9 289.1h2.4v2.4h-2.4zM345.9 289.9h2.3v2.3h-2.3zM410.8 289.5h1.8v1.8h-1.8zM435.6 290.2h1.7v1.7h-1.7zM438.8 289.8h1.7v1.7h-1.7zM458.2 290.2h1.8v1.8h-1.8zM537.9 289.2h1.5v1.5h-1.5zM584.1 289.7h1.8v1.8h-1.8zM676.7 290.3h2.2v2.2h-2.2zM680.2 289.1h2.1v2.1h-2.1zM682.7 290.0h2.4v2.4h-2.4zM690.0 290.3h2.2v2.2h-2.2zM298.1 293.6h2.6v2.6h-2.6zM300.6 293.5h2.4v2.4h-2.4zM307.6 292.5h2.4v2.4h-2.4zM332.4 292.7h2.0v2.0h-2.0zM342.3 292.6h1.9v1.9h-1.9zM365.6 293.7h2.0v2.0h-2.0zM385.4 293.1h1.9v1.9h-1.9zM490.8 293.8h1.5v1.5h-1.5zM495.0 293.0h1.6v1.6h-1.6zM525.0 293.1h1.6v1.6h-1.6zM543.3 293.4h1.8v1.8h-1.8zM555.3 293.0h1.7v1.7h-1.7zM600.2 292.9h1.7v1.7h-1.7zM625.0 293.6h1.8v1.8h-1.8zM674.7 294.0h2.0v2.0h-2.0zM685.6 293.4h2.2v2.2h-2.2zM696.1 292.5h2.3v2.3h-2.3zM307.4 297.5h2.2v2.2h-2.2zM325.2 295.9h2.0v2.0h-2.0zM328.8 296.1h2.1v2.1h-2.1zM332.1 296.7h2.3v2.3h-2.3zM338.2 297.2h2.1v2.1h-2.1zM348.1 297.4h1.9v1.9h-1.9zM352.6 297.4h2.0v2.0h-2.0zM393.2 296.9h1.8v1.8h-1.8zM412.8 297.4h1.9v1.9h-1.9zM464.4 297.0h1.5v1.5h-1.5zM487.1 296.7h1.8v1.8h-1.8zM495.2 297.2h1.7v1.7h-1.7zM672.5 297.5h1.9v1.9h-1.9zM675.2 296.4h2.1v2.1h-2.1zM678.6 297.3h1.9v1.9h-1.9zM692.6 296.3h2.0v2.0h-2.0zM696.0 295.9h2.4v2.4h-2.4zM709.8 295.9h2.3v2.3h-2.3zM720.0 297.3h2.6v2.6h-2.6zM254.3 299.9h2.4v2.4h-2.4zM261.8 300.7h2.6v2.6h-2.6zM264.3 300.5h2.4v2.4h-2.4zM282.3 299.6h2.2v2.2h-2.2zM288.8 300.2h2.2v2.2h-2.2zM323.1 300.1h2.2v2.2h-2.2zM345.9 300.9h1.8v1.8h-1.8zM432.3 300.6h1.9v1.9h-1.9zM522.8 300.9h1.6v1.6h-1.6zM673.0 299.3h1.9v1.9h-1.9zM679.9 300.3h1.8v1.8h-1.8zM720.9 299.5h2.3v2.3h-2.3zM238.9 303.9h2.4v2.4h-2.4zM253.3 303.1h2.6v2.6h-2.6zM283.6 304.1h2.1v2.1h-2.1zM293.7 303.7h2.3v2.3h-2.3zM344.4 304.2h2.0v2.0h-2.0zM355.9 303.0h1.8v1.8h-1.8zM372.5 304.2h1.6v1.6h-1.6zM392.9 303.1h1.5v1.5h-1.5zM402.6 304.0h1.6v1.6h-1.6zM712.5 304.3h2.4v2.4h-2.4zM715.5 303.2h2.4v2.4h-2.4zM726.5 303.9h2.3v2.3h-2.3zM238.2 306.8h2.4v2.4h-2.4zM250.0 306.9h2.4v2.4h-2.4zM263.5 306.5h2.3v2.3h-2.3zM266.3 307.3h2.0v2.0h-2.0zM299.7 306.1h2.2v2.2h-2.2zM303.7 307.0h2.0v2.0h-2.0zM314.1 306.2h1.8v1.8h-1.8zM381.8 307.2h1.8v1.8h-1.8zM429.6 307.6h1.6v1.6h-1.6zM493.9 306.8h1.4v1.4h-1.4zM674.0 306.9h1.9v1.9h-1.9zM707.6 307.6h1.9v1.9h-1.9zM714.5 307.0h2.1v2.1h-2.1zM732.8 306.8h2.4v2.4h-2.4zM261.8 310.7h2.1v2.1h-2.1zM275.2 309.8h1.9v1.9h-1.9zM305.4 310.4h2.1v2.1h-2.1zM338.9 310.0h1.9v1.9h-1.9zM408.2 309.9h1.6v1.6h-1.6zM413.5 309.5h1.6v1.6h-1.6zM682.7 310.4h1.8v1.8h-1.8zM687.2 309.5h1.8v1.8h-1.8zM719.5 309.7h2.2v2.2h-2.2zM724.2 310.9h2.1v2.1h-2.1zM730.0 310.4h2.4v2.4h-2.4zM734.4 311.1h2.3v2.3h-2.3zM750.1 311.2h2.5v2.5h-2.5zM236.9 313.7h2.3v2.3h-2.3zM254.7 313.7h2.2v2.2h-2.2zM263.8 314.3h2.0v2.0h-2.0zM267.2 313.1h2.1v2.1h-2.1zM301.2 313.1h2.1v2.1h-2.1zM349.0 313.8h1.6v1.6h-1.6zM577.7 314.1h1.6v1.6h-1.6zM587.0 313.5h1.6v1.6h-1.6zM654.7 313.4h1.5v1.5h-1.5zM716.6 313.8h1.8v1.8h-1.8zM753.7 313.5h2.4v2.4h-2.4zM256.1 317.0h1.9v1.9h-1.9zM260.1 317.1h1.8v1.8h-1.8zM317.2 316.9h1.8v1.8h-1.8zM532.7 317.0h1.5v1.5h-1.5zM664.3 316.4h1.8v1.8h-1.8zM732.5 317.7h2.2v2.2h-2.2zM746.6 317.7h2.3v2.3h-2.3zM757.5 316.7h2.6v2.6h-2.6zM233.7 321.0h2.3v2.3h-2.3zM346.2 321.4h1.5v1.5h-1.5zM447.7 321.3h1.5v1.5h-1.5zM451.4 320.2h1.5v1.5h-1.5zM523.7 320.6h1.5v1.5h-1.5zM679.8 321.0h1.9v1.9h-1.9zM696.0 321.2h1.8v1.8h-1.8zM702.7 319.9h1.9v1.9h-1.9zM741.0 320.4h2.0v2.0h-2.0zM744.3 320.9h2.3v2.3h-2.3zM750.4 319.7h2.4v2.4h-2.4zM753.8 320.8h2.5v2.5h-2.5zM262.0 324.8h1.8v1.8h-1.8zM292.2 324.6h1.8v1.8h-1.8zM296.5 324.4h1.8v1.8h-1.8zM309.6 324.2h1.8v1.8h-1.8zM323.7 324.5h2.0v2.0h-2.0zM350.3 324.2h1.5v1.5h-1.5zM367.0 324.4h1.8v1.8h-1.8zM449.5 323.5h1.7v1.7h-1.7zM465.9 324.3h1.5v1.5h-1.5zM588.6 323.5h1.5v1.5h-1.5zM693.8 323.7h1.6v1.6h-1.6zM222.6 327.5h2.8v2.8h-2.8zM272.4 327.0h2.0v2.0h-2.0zM303.7 326.5h1.8v1.8h-1.8zM319.5 326.5h1.8v1.8h-1.8zM500.2 326.8h1.6v1.6h-1.6zM643.8 326.7h1.6v1.6h-1.6zM708.4 326.6h1.9v1.9h-1.9zM735.2 327.3h2.0v2.0h-2.0zM739.3 328.0h1.9v1.9h-1.9zM751.3 326.8h2.1v2.1h-2.1zM280.3 331.0h1.8v1.8h-1.8zM336.1 330.4h1.6v1.6h-1.6zM358.2 330.2h1.8v1.8h-1.8zM739.8 330.0h2.0v2.0h-2.0zM771.1 331.2h2.4v2.4h-2.4zM778.0 330.8h2.6v2.6h-2.6zM779.9 331.6h2.6v2.6h-2.6zM215.8 333.8h2.7v2.7h-2.7zM222.2 334.1h2.6v2.6h-2.6zM229.7 334.1h2.3v2.3h-2.3zM232.8 333.4h2.3v2.3h-2.3zM235.2 334.2h1.9v1.9h-1.9zM301.3 333.5h1.9v1.9h-1.9zM338.5 333.3h1.4v1.4h-1.4zM378.3 334.8h1.4v1.4h-1.4zM602.3 334.1h1.4v1.4h-1.4zM636.4 333.9h1.4v1.4h-1.4zM705.3 333.3h1.8v1.8h-1.8zM732.7 334.1h1.7v1.7h-1.7zM763.8 334.3h2.2v2.2h-2.2zM780.2 333.6h2.7v2.7h-2.7zM782.8 334.7h2.7v2.7h-2.7zM226.2 336.9h2.6v2.6h-2.6zM228.9 337.7h2.3v2.3h-2.3zM231.5 336.9h2.5v2.5h-2.5zM235.0 338.2h2.3v2.3h-2.3zM684.0 337.6h1.5v1.5h-1.5zM783.9 337.2h2.6v2.6h-2.6zM786.1 337.8h2.7v2.7h-2.7zM223.9 341.1h2.8v2.8h-2.8zM254.4 340.9h1.9v1.9h-1.9zM260.8 340.7h1.9v1.9h-1.9zM275.8 341.5h1.9v1.9h-1.9zM333.2 341.6h2.1v2.1h-2.1zM590.4 341.2h1.4v1.4h-1.4zM666.9 340.1h1.7v1.7h-1.7zM680.1 340.8h1.6v1.6h-1.6zM703.4 340.6h1.5v1.5h-1.5zM729.8 341.5h1.8v1.8h-1.8zM764.3 340.9h1.8v1.8h-1.8zM782.2 340.6h2.5v2.5h-2.5zM784.6 340.4h2.5v2.5h-2.5zM788.5 341.8h2.4v2.4h-2.4zM791.7 340.9h2.4v2.4h-2.4zM224.1 343.7h2.7v2.7h-2.7zM240.9 343.5h2.3v2.3h-2.3zM243.5 344.4h2.0v2.0h-2.0zM264.2 344.0h1.9v1.9h-1.9zM291.1 345.2h1.9v1.9h-1.9zM329.0 343.9h1.8v1.8h-1.8zM788.5 343.8h2.4v2.4h-2.4zM791.0 344.5h2.5v2.5h-2.5zM794.6 344.5h2.6v2.6h-2.6zM234.4 347.4h2.6v2.6h-2.6zM240.9 347.5h2.6v2.6h-2.6zM246.9 348.6h2.2v2.2h-2.2zM260.3 348.1h1.7v1.7h-1.7zM292.4 347.9h1.9v1.9h-1.9zM308.9 347.3h1.7v1.7h-1.7zM319.3 347.3h1.7v1.7h-1.7zM328.4 348.3h1.9v1.9h-1.9zM580.5 347.0h1.5v1.5h-1.5zM676.0 347.1h1.8v1.8h-1.8zM696.6 347.7h1.5v1.5h-1.5zM713.4 347.9h1.5v1.5h-1.5zM238.8 350.4h2.8v2.8h-2.8zM251.6 351.2h2.4v2.4h-2.4zM369.9 350.8h1.7v1.7h-1.7zM500.2 351.3h1.7v1.7h-1.7zM649.3 351.9h1.7v1.7h-1.7zM699.8 350.7h1.6v1.6h-1.6zM782.2 351.6h2.2v2.2h-2.2zM791.4 351.9h2.2v2.2h-2.2zM803.2 350.3h2.6v2.6h-2.6zM805.6 350.5h2.7v2.7h-2.7zM250.3 354.3h2.6v2.6h-2.6zM257.5 354.3h2.3v2.3h-2.3zM304.6 354.4h1.7v1.7h-1.7zM651.4 355.1h1.4v1.4h-1.4zM743.4 355.2h1.6v1.6h-1.6zM766.9 354.2h1.7v1.7h-1.7zM771.1 354.9h1.8v1.8h-1.8zM794.7 353.7h2.2v2.2h-2.2zM801.3 354.8h2.3v2.3h-2.3zM245.7 357.6h2.7v2.7h-2.7zM262.0 358.6h2.4v2.4h-2.4zM333.1 357.8h1.7v1.7h-1.7zM360.8 357.1h1.5v1.5h-1.5zM637.0 357.4h1.4v1.4h-1.4zM782.1 357.1h1.9v1.9h-1.9zM785.3 358.5h1.9v1.9h-1.9zM802.2 358.6h2.1v2.1h-2.1zM809.0 358.5h2.5v2.5h-2.5zM261.5 361.1h2.4v2.4h-2.4zM292.6 362.0h1.7v1.7h-1.7zM299.8 360.6h1.7v1.7h-1.7zM564.8 360.8h1.7v1.7h-1.7zM683.6 360.9h1.5v1.5h-1.5zM696.8 361.8h1.6v1.6h-1.6zM796.5 360.7h2.0v2.0h-2.0zM259.1 364.2h2.7v2.7h-2.7zM261.8 365.0h2.7v2.7h-2.7zM266.1 364.4h2.5v2.5h-2.5zM279.6 364.6h2.1v2.1h-2.1zM293.1 364.2h1.7v1.7h-1.7zM309.3 365.1h1.9v1.9h-1.9zM350.6 365.4h1.7v1.7h-1.7zM384.3 364.1h1.6v1.6h-1.6zM494.6 365.5h1.4v1.4h-1.4zM559.0 364.6h1.7v1.7h-1.7zM653.8 364.4h1.4v1.4h-1.4zM776.3 364.3h1.6v1.6h-1.6zM786.7 365.0h1.9v1.9h-1.9zM806.4 363.9h2.1v2.1h-2.1zM816.5 364.1h2.4v2.4h-2.4zM300.5 367.5h2.0v2.0h-2.0zM368.4 367.8h1.7v1.7h-1.7zM491.0 368.2h1.6v1.6h-1.6zM552.2 368.0h1.4v1.4h-1.4zM735.3 367.7h1.4v1.4h-1.4zM756.0 367.3h1.7v1.7h-1.7zM797.6 368.7h2.1v2.1h-2.1zM817.8 368.4h2.5v2.5h-2.5zM819.9 368.8h2.3v2.3h-2.3zM291.1 371.9h2.2v2.2h-2.2zM333.4 370.8h1.8v1.8h-1.8zM468.2 371.3h1.7v1.7h-1.7zM730.8 372.3h1.5v1.5h-1.5zM763.6 371.8h1.5v1.5h-1.5zM798.8 372.4h1.8v1.8h-1.8zM802.2 372.3h2.1v2.1h-2.1zM821.4 372.2h2.4v2.4h-2.4zM281.1 375.2h2.6v2.6h-2.6zM283.3 374.2h2.6v2.6h-2.6zM293.7 375.3h2.6v2.6h-2.6zM328.0 375.0h2.0v2.0h-2.0zM341.9 374.0h1.5v1.5h-1.5zM753.5 375.5h1.8v1.8h-1.8zM803.5 374.2h1.8v1.8h-1.8zM821.4 375.3h2.3v2.3h-2.3zM828.1 375.7h2.3v2.3h-2.3zM834.0 375.5h2.6v2.6h-2.6zM291.8 377.8h2.8v2.8h-2.8zM331.5 378.1h1.9v1.9h-1.9zM423.2 377.8h1.4v1.4h-1.4zM747.9 378.6h1.7v1.7h-1.7zM787.0 377.8h1.8v1.8h-1.8zM818.0 378.6h2.0v2.0h-2.0zM826.0 378.2h2.3v2.3h-2.3zM835.3 378.7h2.6v2.6h-2.6zM300.9 380.9h2.8v2.8h-2.8zM313.9 381.5h2.1v2.1h-2.1zM494.6 380.9h1.5v1.5h-1.5zM824.6 381.5h2.3v2.3h-2.3zM831.1 382.3h2.3v2.3h-2.3zM837.5 381.0h2.5v2.5h-2.5zM841.1 382.0h2.7v2.7h-2.7zM307.3 384.2h2.7v2.7h-2.7zM374.8 385.3h1.7v1.7h-1.7zM668.2 384.6h1.5v1.5h-1.5zM714.4 385.3h1.5v1.5h-1.5zM739.1 385.4h1.7v1.7h-1.7zM813.4 385.7h1.8v1.8h-1.8zM843.2 385.0h2.5v2.5h-2.5zM322.0 388.0h2.5v2.5h-2.5zM331.5 388.0h2.0v2.0h-2.0zM338.3 388.9h2.0v2.0h-2.0zM380.0 388.9h1.8v1.8h-1.8zM807.3 387.7h1.8v1.8h-1.8zM811.3 387.8h1.7v1.7h-1.7zM817.7 389.1h2.1v2.1h-2.1zM827.8 387.7h2.2v2.2h-2.2zM844.6 388.2h2.7v2.7h-2.7zM326.0 391.7h2.6v2.6h-2.6zM333.6 392.1h2.8v2.8h-2.8zM361.6 392.0h1.8v1.8h-1.8zM367.6 391.2h1.6v1.6h-1.6zM700.7 391.5h1.4v1.4h-1.4zM834.1 391.7h2.6v2.6h-2.6zM836.6 392.8h2.5v2.5h-2.5zM329.5 395.5h2.7v2.7h-2.7zM332.6 395.5h2.6v2.6h-2.6zM336.7 395.9h2.5v2.5h-2.5zM339.2 395.6h2.5v2.5h-2.5zM352.6 394.6h2.2v2.2h-2.2zM404.2 395.2h1.8v1.8h-1.8zM413.6 396.1h1.5v1.5h-1.5zM457.8 394.8h1.4v1.4h-1.4zM474.9 395.3h1.5v1.5h-1.5zM594.5 395.7h1.6v1.6h-1.6zM757.5 394.5h1.7v1.7h-1.7zM771.1 395.2h1.5v1.5h-1.5zM819.4 395.5h2.2v2.2h-2.2zM825.5 395.5h2.2v2.2h-2.2zM833.3 395.7h2.5v2.5h-2.5zM836.9 395.1h2.4v2.4h-2.4zM345.7 399.4h2.4v2.4h-2.4zM368.2 399.4h2.3v2.3h-2.3zM378.5 399.5h1.8v1.8h-1.8zM446.4 398.4h1.5v1.5h-1.5zM782.7 398.2h1.8v1.8h-1.8zM806.8 398.1h1.8v1.8h-1.8zM820.6 398.6h2.1v2.1h-2.1zM831.2 398.9h2.6v2.6h-2.6zM356.3 402.0h2.7v2.7h-2.7zM370.2 402.2h2.6v2.6h-2.6zM530.3 401.9h1.6v1.6h-1.6zM737.9 402.6h1.7v1.7h-1.7zM757.7 401.3h1.7v1.7h-1.7zM792.8 401.6h1.7v1.7h-1.7zM820.1 402.3h2.5v2.5h-2.5zM833.5 402.3h2.5v2.5h-2.5zM380.8 405.1h2.5v2.5h-2.5zM633.0 406.2h1.6v1.6h-1.6zM799.5 405.0h1.7v1.7h-1.7zM819.6 405.5h2.6v2.6h-2.6zM381.5 408.3h2.7v2.7h-2.7zM398.9 408.6h2.3v2.3h-2.3zM413.3 409.2h2.1v2.1h-2.1zM668.5 408.7h1.6v1.6h-1.6zM793.9 408.9h1.8v1.8h-1.8zM801.1 409.8h2.1v2.1h-2.1zM804.3 408.1h2.0v2.0h-2.0zM391.2 411.7h2.5v2.5h-2.5zM406.0 411.7h2.5v2.5h-2.5zM432.7 412.0h1.7v1.7h-1.7zM691.4 411.8h1.5v1.5h-1.5zM772.7 412.6h1.5v1.5h-1.5zM798.9 412.1h2.1v2.1h-2.1zM400.6 416.3h2.8v2.8h-2.8zM404.5 416.6h2.4v2.4h-2.4zM427.1 415.0h2.3v2.3h-2.3zM441.1 416.5h1.8v1.8h-1.8zM642.4 415.6h1.4v1.4h-1.4zM777.9 415.4h1.8v1.8h-1.8zM787.9 415.1h1.9v1.9h-1.9zM414.6 418.9h2.7v2.7h-2.7zM426.2 419.4h2.4v2.4h-2.4zM432.4 419.8h2.6v2.6h-2.6zM476.3 418.7h1.7v1.7h-1.7zM425.0 423.4h2.8v2.8h-2.8zM436.1 421.9h2.6v2.6h-2.6zM510.0 423.3h1.6v1.6h-1.6zM544.9 423.1h1.6v1.6h-1.6zM636.3 422.8h1.5v1.5h-1.5zM789.7 421.6h2.5v2.5h-2.5zM798.6 422.3h2.5v2.5h-2.5zM440.7 425.9h2.5v2.5h-2.5zM464.0 425.4h2.2v2.2h-2.2zM784.1 425.8h2.7v2.7h-2.7zM786.4 425.5h2.6v2.6h-2.6zM789.7 426.0h2.5v2.5h-2.5zM794.1 425.2h2.6v2.6h-2.6zM454.5 430.1h2.4v2.4h-2.4zM459.2 429.7h2.6v2.6h-2.6zM659.6 429.5h1.7v1.7h-1.7zM699.6 429.6h1.7v1.7h-1.7zM765.4 430.1h2.4v2.4h-2.4zM771.0 429.1h2.6v2.6h-2.6zM785.2 429.0h2.7v2.7h-2.7zM456.0 432.2h2.4v2.4h-2.4zM459.8 433.3h2.4v2.4h-2.4zM466.0 433.1h2.5v2.5h-2.5zM470.4 432.1h2.7v2.7h-2.7zM473.2 432.4h2.3v2.3h-2.3zM543.9 432.5h1.4v1.4h-1.4zM742.0 433.5h2.0v2.0h-2.0zM745.3 433.5h2.0v2.0h-2.0zM768.0 432.9h2.7v2.7h-2.7zM771.5 433.4h2.6v2.6h-2.6zM470.2 435.9h2.5v2.5h-2.5zM512.0 436.8h1.8v1.8h-1.8zM517.2 437.0h1.8v1.8h-1.8zM649.7 436.3h1.6v1.6h-1.6zM726.0 436.2h1.8v1.8h-1.8zM738.4 435.3h1.7v1.7h-1.7zM746.4 436.9h2.4v2.4h-2.4zM750.0 435.9h2.4v2.4h-2.4zM766.2 435.3h2.8v2.8h-2.8zM475.8 438.9h2.7v2.7h-2.7zM478.9 439.7h2.5v2.5h-2.5zM601.1 439.1h1.8v1.8h-1.8zM748.2 439.7h2.4v2.4h-2.4zM760.7 439.6h2.4v2.4h-2.4zM487.1 442.6h2.6v2.6h-2.6zM494.3 443.3h2.5v2.5h-2.5zM505.2 443.5h2.3v2.3h-2.3zM512.2 442.8h2.1v2.1h-2.1zM562.6 442.5h1.4v1.4h-1.4zM702.5 442.5h1.7v1.7h-1.7zM711.9 442.6h1.8v1.8h-1.8zM722.9 443.1h1.9v1.9h-1.9zM753.5 442.6h2.8v2.8h-2.8zM499.1 445.9h2.8v2.8h-2.8zM508.6 446.9h2.7v2.7h-2.7zM526.8 447.1h1.9v1.9h-1.9zM539.4 446.8h1.9v1.9h-1.9zM696.7 446.8h1.8v1.8h-1.8zM700.3 445.8h1.9v1.9h-1.9zM706.7 446.6h1.9v1.9h-1.9zM743.3 445.6h2.4v2.4h-2.4zM507.2 449.7h2.5v2.5h-2.5zM581.9 450.0h1.5v1.5h-1.5zM608.6 449.5h1.8v1.8h-1.8zM676.2 449.1h1.8v1.8h-1.8zM697.4 449.5h1.9v1.9h-1.9zM708.0 450.5h2.3v2.3h-2.3zM717.7 450.2h2.5v2.5h-2.5zM514.9 453.7h2.4v2.4h-2.4zM518.1 453.6h2.8v2.8h-2.8zM528.4 453.5h2.4v2.4h-2.4zM531.6 452.3h2.4v2.4h-2.4zM545.3 453.9h2.4v2.4h-2.4zM549.0 452.9h2.2v2.2h-2.2zM552.6 453.6h2.0v2.0h-2.0zM593.4 453.1h1.6v1.6h-1.6zM607.0 454.0h1.6v1.6h-1.6zM708.9 452.5h2.7v2.7h-2.7zM529.6 455.6h2.6v2.6h-2.6zM550.2 457.1h2.7v2.7h-2.7zM553.3 457.0h2.4v2.4h-2.4zM591.1 457.1h1.8v1.8h-1.8zM593.7 456.1h2.0v2.0h-2.0zM610.8 457.0h1.9v1.9h-1.9zM615.2 457.1h1.8v1.8h-1.8zM625.5 456.6h1.7v1.7h-1.7zM641.5 456.6h2.0v2.0h-2.0zM656.2 457.4h2.1v2.1h-2.1zM672.8 457.0h2.2v2.2h-2.2zM680.3 457.4h2.4v2.4h-2.4zM690.0 457.0h2.5v2.5h-2.5zM693.9 456.8h2.4v2.4h-2.4zM696.1 455.9h2.4v2.4h-2.4zM700.0 456.0h2.6v2.6h-2.6zM705.8 456.5h2.7v2.7h-2.7zM709.8 457.2h2.8v2.8h-2.8zM713.6 456.6h2.8v2.8h-2.8zM716.1 456.1h2.5v2.5h-2.5zM544.9 459.1h2.8v2.8h-2.8zM552.0 459.6h2.6v2.6h-2.6zM572.8 460.8h2.7v2.7h-2.7zM575.0 459.8h2.6v2.6h-2.6zM581.9 460.4h2.5v2.5h-2.5zM606.3 459.7h2.1v2.1h-2.1zM609.6 460.2h2.2v2.2h-2.2zM643.7 459.6h1.8v1.8h-1.8zM668.3 460.0h2.2v2.2h-2.2zM688.7 459.1h2.5v2.5h-2.5zM694.4 459.2h2.8v2.8h-2.8zM561.2 462.6h2.6v2.6h-2.6zM584.8 463.7h2.5v2.5h-2.5zM613.5 463.3h2.3v2.3h-2.3zM621.9 463.8h2.5v2.5h-2.5zM629.9 463.9h2.3v2.3h-2.3zM636.5 463.6h2.4v2.4h-2.4zM650.0 464.2h2.4v2.4h-2.4zM660.3 462.7h2.4v2.4h-2.4zM666.6 463.5h2.7v2.7h-2.7zM670.9 462.4h2.8v2.8h-2.8zM674.0 463.6h2.5v2.5h-2.5zM687.2 463.0h2.8v2.8h-2.8zM589.2 467.1h2.6v2.6h-2.6zM613.6 467.4h2.4v2.4h-2.4zM616.2 467.6h2.8v2.8h-2.8zM626.7 467.3h2.8v2.8h-2.8zM634.0 467.5h2.7v2.7h-2.7zM656.4 466.4h2.7v2.7h-2.7zM664.6 466.9h2.5v2.5h-2.5zM625.7 469.6h2.4v2.4h-2.4z"/></g>
<g fill="#e4f59a" filter="url(#gl)"><ellipse cx="350.8" cy="378.3" rx="24.5" ry="14.5" transform="rotate(15 350.8 378.3)"/><ellipse cx="407.5" cy="384.2" rx="28.5" ry="14.5" transform="rotate(8 407.5 384.2)"/><ellipse cx="427.5" cy="351.7" rx="28.5" ry="15.5" transform="rotate(-12 427.5 351.7)"/><ellipse cx="461.7" cy="390.8" rx="31.5" ry="16.5" transform="rotate(-8 461.7 390.8)"/><ellipse cx="487.5" cy="415.0" rx="29.5" ry="13.5" transform="rotate(20 487.5 415.0)"/><ellipse cx="534.2" cy="415.0" rx="32.5" ry="15.5" transform="rotate(42 534.2 415.0)"/><ellipse cx="565.8" cy="401.7" rx="33.5" ry="16.5" transform="rotate(26 565.8 401.7)"/><ellipse cx="600.0" cy="445.0" rx="40.1" ry="17.5" transform="rotate(15 600.0 445.0)"/><ellipse cx="387.5" cy="302.5" rx="29.5" ry="14.5" transform="rotate(12 387.5 302.5)"/><ellipse cx="443.5" cy="278.0" rx="30.5" ry="14.5" transform="rotate(-12 443.5 278.0)"/><ellipse cx="454.0" cy="314.0" rx="29.5" ry="16.5" transform="rotate(20 454.0 314.0)"/><ellipse cx="512.0" cy="304.0" rx="32.5" ry="16.0" transform="rotate(25 512.0 304.0)"/><ellipse cx="536.5" cy="277.0" rx="31.5" ry="15.5" transform="rotate(10 536.5 277.0)"/><ellipse cx="588.5" cy="306.0" rx="33.5" ry="15.5" transform="rotate(-8 588.5 306.0)"/><ellipse cx="660.0" cy="298.0" rx="34.5" ry="18.5" transform="rotate(15 660.0 298.0)"/><ellipse cx="741.0" cy="336.0" rx="36.5" ry="19.5" transform="rotate(55 741.0 336.0)"/><ellipse cx="701.7" cy="423.3" rx="40.2" ry="16.5" transform="rotate(-33 701.7 423.3)"/></g>
<g fill="#94e236" filter="url(#cb)"><ellipse cx="350.8" cy="378.3" rx="22.0" ry="12.0" transform="rotate(15 350.8 378.3)"/><ellipse cx="407.5" cy="384.2" rx="26.0" ry="12.0" transform="rotate(8 407.5 384.2)"/><ellipse cx="427.5" cy="351.7" rx="26.0" ry="13.0" transform="rotate(-12 427.5 351.7)"/><ellipse cx="461.7" cy="390.8" rx="29.0" ry="14.0" transform="rotate(-8 461.7 390.8)"/><ellipse cx="487.5" cy="415.0" rx="27.0" ry="11.0" transform="rotate(20 487.5 415.0)"/><ellipse cx="534.2" cy="415.0" rx="30.0" ry="13.0" transform="rotate(42 534.2 415.0)"/><ellipse cx="565.8" cy="401.7" rx="31.0" ry="14.0" transform="rotate(26 565.8 401.7)"/><ellipse cx="600.0" cy="445.0" rx="37.6" ry="15.0" transform="rotate(15 600.0 445.0)"/><ellipse cx="387.5" cy="302.5" rx="27.0" ry="12.0" transform="rotate(12 387.5 302.5)"/><ellipse cx="443.5" cy="278.0" rx="28.0" ry="12.0" transform="rotate(-12 443.5 278.0)"/><ellipse cx="454.0" cy="314.0" rx="27.0" ry="14.0" transform="rotate(20 454.0 314.0)"/><ellipse cx="512.0" cy="304.0" rx="30.0" ry="13.5" transform="rotate(25 512.0 304.0)"/><ellipse cx="536.5" cy="277.0" rx="29.0" ry="13.0" transform="rotate(10 536.5 277.0)"/><ellipse cx="588.5" cy="306.0" rx="31.0" ry="13.0" transform="rotate(-8 588.5 306.0)"/><ellipse cx="660.0" cy="298.0" rx="32.0" ry="16.0" transform="rotate(15 660.0 298.0)"/><ellipse cx="741.0" cy="336.0" rx="34.0" ry="17.0" transform="rotate(55 741.0 336.0)"/><ellipse cx="701.7" cy="423.3" rx="37.7" ry="14.0" transform="rotate(-33 701.7 423.3)"/></g>
<path d="M333.3 295.0L348.3 280.8M345.8 303.3L356.7 290.0M363.3 278.3L375.0 270.0M375.0 295.0L387.5 284.2M350.0 321.7L368.3 304.2M366.7 325.8L381.7 312.5M387.5 305.8L400.0 297.5M388.3 332.5L403.3 321.7M395.0 280.0L408.3 268.3M405.8 290.8L418.3 280.0M406.7 316.7L416.7 307.5M420.0 304.2L433.3 292.5M424.2 271.7L436.7 265.8M419.2 336.7L440.8 320.8M440.0 287.5L456.7 275.8M450.0 314.2L467.5 301.7M445.0 336.7L458.3 330.8M465.0 270.0L481.7 261.7M473.3 296.7L490.0 285.0M473.3 325.0L490.0 316.7M335.0 311.7L341.7 306.7M490.0 285.8L513.3 273.3M528.3 262.5L546.7 256.7M523.3 295.0L543.3 285.0M548.3 282.5L571.7 271.7M503.3 309.2L513.3 301.7M519.2 321.7L545.0 309.2M555.0 304.2L583.3 293.3M591.7 286.7L615.0 280.8M580.0 266.7L596.7 261.7M592.5 313.3L618.3 303.3M558.3 330.0L580.0 320.8M610.0 331.7L621.7 327.5M626.7 276.7L650.0 270.0M630.0 300.0L650.0 293.3M630.0 323.3L650.0 315.0M496.7 331.7L508.3 326.7M640.0 295.8L656.7 291.7M661.7 313.3L690.0 306.7M640.0 321.7L653.3 315.8M701.7 328.3L723.3 323.3M735.0 322.5L760.0 320.8M688.3 332.5L695.0 330.8M640.0 273.3L650.0 270.8M665.0 288.3L688.3 286.7M696.7 412.5L713.3 394.2M740.0 404.2L753.3 389.2M667.5 435.0L688.3 419.2M695.0 445.0L718.3 426.7M723.3 420.8L735.8 408.3M640.0 453.3L658.3 441.7M670.0 464.2L685.0 453.3M526.7 384.2L546.7 375.8M494.2 400.0L515.8 391.7M529.2 416.7L554.2 407.5M496.7 426.7L517.5 420.8M528.3 438.3L548.3 432.5M560.0 428.3L578.3 421.7M571.7 395.8L593.3 385.0M591.7 416.7L608.3 408.3M610.0 436.7L630.0 421.7M572.5 450.8L599.2 441.7M633.3 455.0L650.0 445.8M606.7 463.3L623.3 460.0M330.0 380.0L350.0 375.0M360.8 372.5L386.7 365.8M365.8 393.3L387.5 389.2M395.0 387.5L413.3 382.5M423.3 377.5L440.0 370.8M411.7 406.7L433.3 403.3M461.7 410.8L483.3 403.3M426.7 418.3L450.0 414.2M224.9 340.4L237.9 338.9M253.8 350.2L264.0 348.8M280.0 370.6L291.7 369.2M326.7 361.9L334.0 359.0" stroke="#1e1e1e" stroke-width="1.9" stroke-linecap="round" fill="none"/>
<g fill="#fff" stroke="#111" stroke-width="2"><ellipse cx="342.5" cy="347.5" rx="4.5" ry="5.5" transform="rotate(0 342.5 347.5)"/><ellipse cx="360.8" cy="347.5" rx="5.5" ry="4.5" transform="rotate(20 360.8 347.5)"/><ellipse cx="378.3" cy="353.3" rx="5.5" ry="4.5" transform="rotate(0 378.3 353.3)"/><ellipse cx="368.0" cy="336.5" rx="4.5" ry="5.0" transform="rotate(0 368.0 336.5)"/><ellipse cx="458.8" cy="350.0" rx="4.5" ry="6.0" transform="rotate(0 458.8 350.0)"/><ellipse cx="476.6" cy="348.0" rx="8.0" ry="4.3" transform="rotate(-50 476.6 348.0)"/><ellipse cx="452.2" cy="367.8" rx="6.5" ry="4.5" transform="rotate(-15 452.2 367.8)"/><ellipse cx="471.0" cy="366.0" rx="5.5" ry="4.5" transform="rotate(30 471.0 366.0)"/><ellipse cx="496.0" cy="338.8" rx="5.0" ry="4.0" transform="rotate(0 496.0 338.8)"/><ellipse cx="506.6" cy="347.0" rx="5.5" ry="4.5" transform="rotate(-40 506.6 347.0)"/><ellipse cx="495.3" cy="356.5" rx="5.5" ry="4.5" transform="rotate(-30 495.3 356.5)"/><ellipse cx="503.8" cy="366.0" rx="8.0" ry="4.5" transform="rotate(5 503.8 366.0)"/><ellipse cx="515.0" cy="360.3" rx="3.5" ry="5.5" transform="rotate(-30 515.0 360.3)"/><ellipse cx="546.9" cy="338.8" rx="6.5" ry="5.0" transform="rotate(0 546.9 338.8)"/><ellipse cx="554.4" cy="360.3" rx="7.0" ry="4.5" transform="rotate(5 554.4 360.3)"/><ellipse cx="577.0" cy="340.6" rx="4.5" ry="6.0" transform="rotate(30 577.0 340.6)"/><ellipse cx="593.8" cy="328.4" rx="6.5" ry="4.0" transform="rotate(0 593.8 328.4)"/><ellipse cx="606.9" cy="344.4" rx="5.5" ry="6.0" transform="rotate(0 606.9 344.4)"/><ellipse cx="575.0" cy="366.0" rx="5.0" ry="6.5" transform="rotate(-30 575.0 366.0)"/><ellipse cx="590.0" cy="353.8" rx="5.5" ry="5.0" transform="rotate(0 590.0 353.8)"/><ellipse cx="596.6" cy="370.6" rx="4.5" ry="5.5" transform="rotate(0 596.6 370.6)"/><ellipse cx="609.0" cy="320.0" rx="6.0" ry="4.5" transform="rotate(0 609.0 320.0)"/><ellipse cx="627.0" cy="311.5" rx="6.0" ry="4.5" transform="rotate(0 627.0 311.5)"/><ellipse cx="610.0" cy="401.7" rx="4.5" ry="6.0" transform="rotate(-20 610.0 401.7)"/><ellipse cx="640.8" cy="429.2" rx="3.5" ry="4.5" transform="rotate(0 640.8 429.2)"/><ellipse cx="715.8" cy="366.7" rx="4.5" ry="7.0" transform="rotate(-30 715.8 366.7)"/><ellipse cx="715.8" cy="384.2" rx="7.0" ry="5.0" transform="rotate(-10 715.8 384.2)"/><ellipse cx="734.2" cy="379.2" rx="6.0" ry="5.0" transform="rotate(0 734.2 379.2)"/><ellipse cx="760.0" cy="377.5" rx="6.0" ry="4.5" transform="rotate(0 760.0 377.5)"/><ellipse cx="782.5" cy="372.5" rx="6.0" ry="5.5" transform="rotate(0 782.5 372.5)"/><ellipse cx="778.3" cy="385.8" rx="6.0" ry="5.5" transform="rotate(20 778.3 385.8)"/><ellipse cx="793.3" cy="392.5" rx="6.0" ry="4.5" transform="rotate(-10 793.3 392.5)"/><ellipse cx="796.7" cy="379.2" rx="4.5" ry="6.0" transform="rotate(0 796.7 379.2)"/><ellipse cx="795.0" cy="359.2" rx="5.0" ry="5.5" transform="rotate(0 795.0 359.2)"/><ellipse cx="815.0" cy="383.0" rx="5.0" ry="6.0" transform="rotate(20 815.0 383.0)"/></g>
<circle cx="659.2" cy="371.4" r="44.5" fill="url(#ng)" filter="url(#sb)"/><circle cx="659.2" cy="371.4" r="44" fill="url(#nr)"/><circle cx="659.2" cy="371.4" r="43.5" fill="#000" filter="url(#nt)" opacity="0.6"/><circle cx="659.2" cy="371.4" r="43.5" fill="#000" filter="url(#nt2)" opacity="0.7"/>
<circle cx="289.5" cy="319.5" r="15.5" fill="#ffe23a" filter="url(#gl)"/>
<circle cx="292" cy="321.3" r="14.2" fill="#ec1010" filter="url(#sb)"/>
<circle cx="325.5" cy="317.2" r="7.8" fill="#fff" stroke="#111" stroke-width="2"/>
<g fill="none" stroke="#161616" stroke-width="2.2">
<path d="M221 321.6 C235 325 255 327 278.5 328"/>
<path d="M218 329 C230 331 242 332 252.4 333.6 C270 338 290 342 306 345 C315 347 320 349 322.7 351.1 C324 356 321 361 318 362 C310 366 300 367 296.7 366.4 C285 363 278 360 273.8 357.2 C262 349 256 340 252.4 333.6"/>
<path d="M305.9 327.4 C312 330 318 333 320 338 C322 342 322.5 346 322.7 351.1"/>
</g>
<path d="M221.0 317.0 C221.7 315.7 222.5 311.4 225.0 309.0 C227.5 306.6 230.0 304.3 236.0 302.6 C242.0 300.9 253.2 300.2 261.0 299.0 C268.8 297.8 275.7 296.7 283.0 295.3 C290.3 293.9 293.8 293.9 305.0 290.9 C316.2 287.8 334.2 281.3 350.0 277.0 C365.8 272.7 383.3 268.2 400.0 265.0 C416.7 261.8 433.3 259.9 450.0 258.0 C466.7 256.1 481.7 254.3 500.0 253.5 C518.3 252.7 543.3 252.1 560.0 253.0 C576.7 253.9 585.0 256.4 600.0 259.0 C615.0 261.6 635.0 264.4 650.0 268.5 C665.0 272.6 677.2 278.2 690.0 283.3 C702.8 288.4 715.3 293.4 727.0 299.0 C738.7 304.6 747.8 309.2 760.0 317.0 C772.2 324.8 788.3 337.1 800.0 346.0 C811.7 354.9 822.2 363.9 830.0 370.5 C837.8 377.1 844.2 383.0 847.0 385.5 Q855.5 390.5 846 394.5 C838.3 399.2 816.0 414.8 800.0 423.0 C784.0 431.2 763.3 438.7 750.0 444.0 C736.7 449.3 728.3 452.3 720.0 455.0 C711.7 457.7 710.0 457.7 700.0 460.0 C690.0 462.3 673.3 467.3 660.0 469.0 C646.7 470.7 634.5 470.6 620.0 470.0 C605.5 469.4 588.8 467.8 573.0 465.5 C557.2 463.2 537.2 459.2 525.0 456.5 C512.8 453.8 509.2 452.2 500.0 449.0 C490.8 445.8 478.3 440.5 470.0 437.5 C461.7 434.5 461.7 434.5 450.0 431.0 C438.3 427.5 419.0 422.0 400.0 416.5 C381.0 411.0 355.5 404.7 336.0 398.0 C316.5 391.3 298.5 383.4 283.0 376.5 C267.5 369.6 253.2 362.3 243.0 356.7 C232.8 351.1 226.6 346.6 222.0 343.0 C217.4 339.4 216.2 337.3 215.5 335.0 C214.8 332.7 217.6 330.0 218.0 329.0 Z" fill="none" stroke="#151515" stroke-width="2.2"/>
<g fill="none" stroke="#202020" stroke-width="2.3">
<path d="M0.0 309.5 C4.2 309.8 16.7 311.8 25.0 311.2 C33.3 310.7 42.5 308.3 50.0 306.2 C57.5 304.2 64.2 300.4 70.0 298.8 C75.8 297.1 79.2 296.0 85.0 296.2 C90.8 296.5 98.3 297.7 105.0 300.0 C111.7 302.3 118.3 306.5 125.0 310.0 C131.7 313.5 139.2 318.5 145.0 321.2 C150.8 324.0 154.2 325.6 160.0 326.2 C165.8 326.9 173.3 325.6 180.0 325.0 C186.7 324.4 193.2 323.5 200.0 322.5 C206.8 321.5 217.5 319.6 221.0 319.0"/>
<path d="M0.0 361.2 C4.2 361.9 16.7 364.2 25.0 365.0 C33.3 365.8 42.5 365.4 50.0 366.2 C57.5 367.1 63.8 368.3 70.0 370.0 C76.2 371.7 81.7 373.8 87.5 376.2 C93.3 378.8 99.6 381.7 105.0 385.0 C110.4 388.3 114.2 393.3 120.0 396.2 C125.8 399.2 133.8 400.4 140.0 402.5 C146.2 404.6 152.1 406.8 157.5 408.8 C162.9 410.8 170.0 413.5 172.5 414.5"/>
</g>
<g stroke="#111" stroke-width="2">
<line x1="78.3" y1="373" x2="78.3" y2="477"/>
<line x1="282.7" y1="234" x2="282.7" y2="307"/>
<line x1="455.8" y1="238" x2="455.8" y2="276"/>
<line x1="524.8" y1="233" x2="524.8" y2="276"/>
<line x1="652.5" y1="236" x2="652.5" y2="328"/>
<line x1="326.9" y1="325" x2="326.9" y2="476"/>
<line x1="523.8" y1="355.5" x2="523.8" y2="475"/>
<polyline fill="none" points="773.3,285 726.7,299.2 698.3,304.2"/>
</g>
<circle cx="523.6" cy="351" r="4.5" fill="#fff" stroke="#111" stroke-width="1.9"/>
<text class="lb" x="256.7" y="227" textLength="61.6" lengthAdjust="spacingAndGlyphs">Глазок</text>
<text class="lb" x="425.8" y="227" textLength="123" lengthAdjust="spacingAndGlyphs">Хлоропласты</text>
<text class="lb" x="628.8" y="228.5" textLength="47" lengthAdjust="spacingAndGlyphs">Ядро</text>
<text class="lb" x="763" y="278.5" textLength="94" lengthAdjust="spacingAndGlyphs">Оболочка</text>
<text class="lb" x="45" y="495.5" textLength="67.5" lengthAdjust="spacingAndGlyphs">Жгутик</text>
<text class="lb" x="251" y="495" textLength="150" lengthAdjust="spacingAndGlyphs">Сократительная</text>
<text class="lb" x="289" y="514" textLength="72" lengthAdjust="spacingAndGlyphs">вакуоль</text>
<text class="lb" x="456" y="492.3" textLength="214" lengthAdjust="spacingAndGlyphs">Запасные питательные</text>
<text class="lb" x="515" y="513" textLength="87.5" lengthAdjust="spacingAndGlyphs">вещества</text>
</svg>
</body></html>
